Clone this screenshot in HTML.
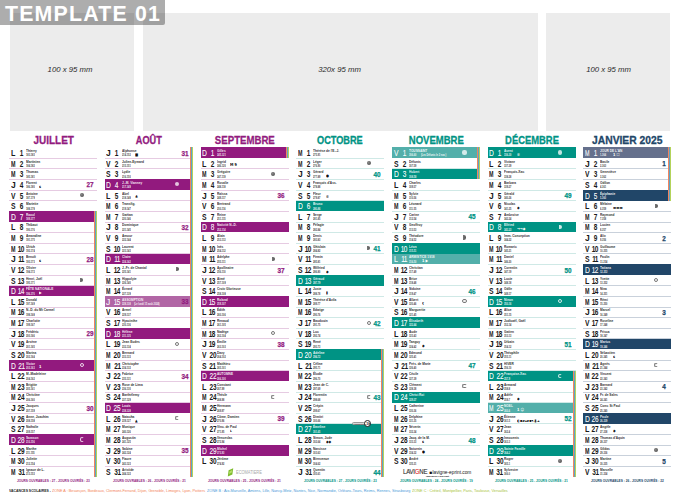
<!DOCTYPE html>
<html lang="fr"><head><meta charset="utf-8"><title>Template 01</title>
<style>
*{box-sizing:border-box;margin:0;padding:0}
html,body{width:680px;height:501px;overflow:hidden;background:#fff}
body{position:relative;font-family:"Liberation Sans",Arial,sans-serif;color:#222}
.ph{position:absolute;top:13px;height:117.5px;background:#ececec}
.phl{position:absolute;top:64.5px;font:italic 7.75px/9px "Liberation Sans",sans-serif;color:#2a2a2a;white-space:nowrap}
.tag{position:absolute;left:0;top:0;width:165px;height:25px;background:rgba(0,0,0,.32);border-radius:0 0 2px 0}
.tagt{position:absolute;left:5px;top:2.8px;font:bold 21.3px/22px "Liberation Sans",sans-serif;color:#fff;letter-spacing:1.2px;white-space:nowrap}
.mt{position:absolute;top:134.1px;width:88px;text-align:center;font:bold 11.2px/13px "Liberation Sans",sans-serif;white-space:nowrap;-webkit-text-stroke:.3px currentColor}
.mt span{display:inline-block;transform:scaleX(.86);transform-origin:50% 50%}
.col{position:absolute;top:0;width:88px;height:501px}
.r{position:absolute;left:0;width:88px;height:10.63px}
.sep{position:absolute;left:0;width:88px;height:1px}
.bar{position:absolute;left:0;width:88px}
.st{position:absolute;width:1px}
.dl{position:absolute;left:1.6px;font:bold 9px/10px "Liberation Sans",sans-serif;color:#1a1a1a;transform-origin:0 0}
.dn{position:absolute;left:7.1px;width:10px;text-align:center;font:bold 9px/10px "Liberation Sans",sans-serif;color:#1a1a1a}
.dn>span{display:inline-block;transform:scaleX(.72)}
.dn i{font-style:normal;margin:0 -1.1px 0 -.9px}
.dn i:last-child{margin:0 -.9px 0 -.5px}
.nm{position:absolute;left:16.8px;font:bold 4.3px/5px "Liberation Sans",sans-serif;color:#333;white-space:nowrap;transform:scaleX(.74);transform-origin:0 0}
.nb{position:absolute;left:16.8px;font:bold 3.5px/4px "Liberation Sans",sans-serif;color:#444;white-space:nowrap;transform:scaleX(.68);transform-origin:0 0}
.wk{position:absolute;left:74.4px;width:12px;text-align:center;font:bold 7.6px/9px "Liberation Sans",sans-serif;-webkit-text-stroke:.25px currentColor;transform:scaleX(.84);transform-origin:50% 0}
.inv .dl,.inv .dn,.inv .nm,.inv .nb{color:#fff}
.inv .dl,.inv .dn{font-weight:normal;color:rgba(255,255,255,.95);-webkit-text-stroke:.15px currentColor}
.inv .nm,.inv .nb{color:rgba(255,255,255,.92)}
.mn{position:absolute;left:70.45px;width:4.1px;height:4.1px;border-radius:50%}
.mnew{background:radial-gradient(circle at 40% 40%,#888 0,#5e5e5e 60%,#555 100%)}
.mfull{border:.7px solid #777;background:radial-gradient(circle,#aaa 0,#aaa 18%,#fff 30%)}
.mfq{border-radius:0 2.2px 2.2px 0;left:71.2px;width:3px;background:linear-gradient(90deg,#777 0,#555 100%)}
.mlq{border:.9px solid #777;border-right-color:transparent;background:transparent}
.inv .mnew{background:rgba(255,255,255,.75)}
.inv .mfull{border-color:rgba(255,255,255,.8);background:transparent}
.inv .mfq{background:rgba(255,255,255,.8)}
.inv .mlq{border-color:rgba(255,255,255,.8);border-right-color:transparent}
.ic{position:absolute;top:5.4px;font:bold 4px/4px "DejaVu Sans",sans-serif;color:#111;white-space:nowrap;transform:scaleX(.85);transform-origin:0 0}
.inv .ic{color:#fff}
.dst{position:absolute;left:55.6px;top:-3.4px;width:19px;height:7px}
.dst .pill{position:absolute;left:0;top:1.7px;width:13.5px;height:3.2px;border-radius:1.6px;background:#d9d9d9;border:.4px solid #9a9a9a}
.dst .pill b{position:absolute;left:1.5px;top:.2px;font:bold 1.8px/2px "Liberation Sans",sans-serif;color:#555;white-space:nowrap}
.dst .clk{position:absolute;left:12.3px;top:0;width:7px;height:7px;border-radius:50%;background:#fff;border:.7px solid #222;display:flex;align-items:center;justify-content:center;font:bold 3.6px/4px "Liberation Sans",sans-serif;color:#111;white-space:nowrap}
.jo{position:absolute;top:479.3px;width:88px;text-align:center;font:bold 3.8px/4px "Liberation Sans",sans-serif;white-space:nowrap}
.jo span{display:inline-block;transform:scaleX(.84)}
.vs{position:absolute;top:487.9px;font:4.4px/5px "Liberation Sans",sans-serif;white-space:nowrap;transform-origin:0 0}
.vb{font-weight:bold;color:#1a1a1a}
.za{color:#f3845a}
.zb{color:#4a9ad8}
.zc{color:#a6c337}
.eco{position:absolute;left:227.2px;top:467.5px;width:40px;height:9px}
.eco span{position:absolute;left:8.4px;top:2.4px;font:4.6px/5px "Liberation Sans",sans-serif;color:#a9a9a9;transform:scaleX(.86);transform-origin:0 0;white-space:nowrap}
.lav{position:absolute;left:403px;top:467px;width:70px;height:12px}
.lav span{position:absolute;white-space:nowrap;font-family:"Liberation Sans",sans-serif;transform-origin:0 0}
.lv1{left:0;top:1.2px;font-size:7.2px;line-height:8px;color:#333;transform:scaleX(.83);letter-spacing:-.2px;-webkit-text-stroke:.15px currentColor}
.lv1 i{font-style:normal;color:#e2332f}
.lv2{left:26.6px;top:3.4px;font-size:4.75px;line-height:6px;color:#111}
.lv3{left:23px;top:8.2px;font-size:2.4px;line-height:3px;color:#222;font-weight:bold}
</style></head><body>

<div class="ph" style="left:10px;width:124px"></div>
<div class="ph" style="left:142.5px;width:395.5px"></div>
<div class="ph" style="left:546.3px;width:123.7px"></div>
<div class="phl" style="left:47.6px">100 x 95 mm</div>
<div class="phl" style="left:318.2px">320x 95 mm</div>
<div class="phl" style="left:586.2px">100 x 95 mm</div>
<div class="mt" style="left:9.2px;color:#921a7e"><span style="transform:scaleX(0.89)">JUILLET</span></div>
<div class="col" style="left:9.2px">
<div class="r" style="top:147.4px"><div class="sep" style="top:10.33px;background:#e6cbe2"></div><div class="dl" style="top:0.6px;transform:scaleX(0.8)">L</div><div class="dn" style="top:0.6px"><span>1</span></div><div class="nm" style="top:0.6px">Thierry</div><div class="nb" style="top:5.6px">183-183</div></div>
<div class="r" style="top:158.03px"><div class="sep" style="top:10.33px;background:#e6cbe2"></div><div class="dl" style="top:0.97px;transform:scaleX(0.6)">M</div><div class="dn" style="top:0.97px"><span>2</span></div><div class="nm" style="top:0.97px">Martinien</div><div class="nb" style="top:5.97px">184-182</div></div>
<div class="r" style="top:168.66px"><div class="sep" style="top:10.33px;background:#e6cbe2"></div><div class="dl" style="top:0.34px;transform:scaleX(0.6)">M</div><div class="dn" style="top:0.34px"><span>3</span></div><div class="nm" style="top:0.34px">Thomas</div><div class="nb" style="top:6.34px">185-181</div></div>
<div class="r" style="top:179.29px"><div class="sep" style="top:10.33px;background:#e6cbe2"></div><div class="dl" style="top:0.71px;transform:scaleX(0.95)">J</div><div class="dn" style="top:0.71px"><span>4</span></div><div class="nm" style="top:0.71px">Florent</div><div class="nb" style="top:5.71px">186-180</div><div class="ic" style="left:29.8px">s</div><div class="wk" style="top:0.71px;color:#921a7e">27</div></div>
<div class="r" style="top:189.92px"><div class="sep" style="top:10.33px;background:#e6cbe2"></div><div class="dl" style="top:1.08px;transform:scaleX(0.75)">V</div><div class="dn" style="top:1.08px"><span>5</span></div><div class="nm" style="top:1.08px">Antoine</div><div class="nb" style="top:6.08px">187-179</div><span style="top:3.05px" class="mn mnew"></span></div>
<div class="r" style="top:200.55px"><div class="sep" style="top:10.33px;background:#e6cbe2"></div><div class="dl" style="top:0.45px;transform:scaleX(0.76)">S</div><div class="dn" style="top:0.45px"><span>6</span></div><div class="nm" style="top:0.45px">Mariette</div><div class="nb" style="top:6.45px">188-178</div></div>
<div class="r inv" style="top:211.18px"><div class="bar" style="top:0;height:10.68px;background:#921a7e"></div><div class="dl" style="top:0.82px;transform:scaleX(0.75)">D</div><div class="dn" style="top:0.82px"><span>7</span></div><div class="nm" style="top:0.82px">Raoul</div><div class="nb" style="top:5.82px">189-177</div><div class="st" style="left:85px;top:0;height:10.68px;background:#f2845f"></div><div class="st" style="left:86px;top:0;height:10.68px;background:#5ea3c6"></div><div class="st" style="left:87px;top:0;height:10.68px;background:#b3d35a"></div></div>
<div class="r" style="top:221.81px"><div class="sep" style="top:10.33px;background:#e6cbe2"></div><div class="dl" style="top:0.19px;transform:scaleX(0.8)">L</div><div class="dn" style="top:0.19px"><span>8</span></div><div class="nm" style="top:0.19px">Thibaut</div><div class="nb" style="top:6.19px">190-176</div><div class="st" style="left:85px;top:0;height:10.68px;background:#f2845f"></div><div class="st" style="left:86px;top:0;height:10.68px;background:#5ea3c6"></div><div class="st" style="left:87px;top:0;height:10.68px;background:#b3d35a"></div></div>
<div class="r" style="top:232.44px"><div class="sep" style="top:10.33px;background:#e6cbe2"></div><div class="dl" style="top:0.56px;transform:scaleX(0.6)">M</div><div class="dn" style="top:0.56px"><span>9</span></div><div class="nm" style="top:0.56px">Amandine</div><div class="nb" style="top:5.56px">191-175</div><div class="st" style="left:85px;top:0;height:10.68px;background:#f2845f"></div><div class="st" style="left:86px;top:0;height:10.68px;background:#5ea3c6"></div><div class="st" style="left:87px;top:0;height:10.68px;background:#b3d35a"></div></div>
<div class="r" style="top:243.07px"><div class="sep" style="top:10.33px;background:#e6cbe2"></div><div class="dl" style="top:0.93px;transform:scaleX(0.6)">M</div><div class="dn" style="top:0.93px"><span><i>1</i>0</span></div><div class="nm" style="top:0.93px">Ulrich</div><div class="nb" style="top:5.93px">192-174</div><div class="st" style="left:85px;top:0;height:10.68px;background:#f2845f"></div><div class="st" style="left:86px;top:0;height:10.68px;background:#5ea3c6"></div><div class="st" style="left:87px;top:0;height:10.68px;background:#b3d35a"></div></div>
<div class="r" style="top:253.7px"><div class="sep" style="top:10.33px;background:#e6cbe2"></div><div class="dl" style="top:0.3px;transform:scaleX(0.95)">J</div><div class="dn" style="top:0.3px"><span><i>1</i><i>1</i></span></div><div class="nm" style="top:0.3px">Benoît</div><div class="nb" style="top:6.3px">193-173</div><div class="ic" style="left:29.8px">s</div><div class="wk" style="top:1.3px;color:#921a7e">28</div><div class="st" style="left:85px;top:0;height:10.68px;background:#f2845f"></div><div class="st" style="left:86px;top:0;height:10.68px;background:#5ea3c6"></div><div class="st" style="left:87px;top:0;height:10.68px;background:#b3d35a"></div></div>
<div class="r" style="top:264.33px"><div class="sep" style="top:10.33px;background:#e6cbe2"></div><div class="dl" style="top:0.67px;transform:scaleX(0.75)">V</div><div class="dn" style="top:0.67px"><span><i>1</i>2</span></div><div class="nm" style="top:0.67px">Olivier</div><div class="nb" style="top:5.67px">194-172</div><div class="st" style="left:85px;top:0;height:10.68px;background:#f2845f"></div><div class="st" style="left:86px;top:0;height:10.68px;background:#5ea3c6"></div><div class="st" style="left:87px;top:0;height:10.68px;background:#b3d35a"></div></div>
<div class="r" style="top:274.96px"><div class="sep" style="top:10.33px;background:#e6cbe2"></div><div class="dl" style="top:1.04px;transform:scaleX(0.76)">S</div><div class="dn" style="top:1.04px"><span><i>1</i>3</span></div><div class="nm" style="top:1.04px">Henri, Joël</div><div class="nb" style="top:6.04px">195-171</div><span style="top:3.05px" class="mn mfq"></span><div class="st" style="left:85px;top:0;height:10.68px;background:#f2845f"></div><div class="st" style="left:86px;top:0;height:10.68px;background:#5ea3c6"></div><div class="st" style="left:87px;top:0;height:10.68px;background:#b3d35a"></div></div>
<div class="r inv" style="top:285.59px"><div class="bar" style="top:0;height:10.68px;background:#921a7e"></div><div class="dl" style="top:0.41px;transform:scaleX(0.75)">D</div><div class="dn" style="top:0.41px"><span><i>1</i>4</span></div><div class="nm" style="top:0.41px">FÊTE NATIONALE</div><div class="nb" style="top:6.41px">196-170</div><div class="ic" style="left:29.8px">▶</div><div class="st" style="left:85px;top:0;height:10.68px;background:#f2845f"></div><div class="st" style="left:86px;top:0;height:10.68px;background:#5ea3c6"></div><div class="st" style="left:87px;top:0;height:10.68px;background:#b3d35a"></div></div>
<div class="r" style="top:296.22px"><div class="sep" style="top:10.33px;background:#e6cbe2"></div><div class="dl" style="top:0.78px;transform:scaleX(0.8)">L</div><div class="dn" style="top:0.78px"><span><i>1</i>5</span></div><div class="nm" style="top:0.78px">Donald</div><div class="nb" style="top:5.78px">197-169</div><div class="st" style="left:85px;top:0;height:10.68px;background:#f2845f"></div><div class="st" style="left:86px;top:0;height:10.68px;background:#5ea3c6"></div><div class="st" style="left:87px;top:0;height:10.68px;background:#b3d35a"></div></div>
<div class="r" style="top:306.85px"><div class="sep" style="top:10.33px;background:#e6cbe2"></div><div class="dl" style="top:0.15px;transform:scaleX(0.6)">M</div><div class="dn" style="top:0.15px"><span><i>1</i>6</span></div><div class="nm" style="top:0.15px">N.-D. du Mt Carmel</div><div class="nb" style="top:6.15px">198-168</div><div class="st" style="left:85px;top:0;height:10.68px;background:#f2845f"></div><div class="st" style="left:86px;top:0;height:10.68px;background:#5ea3c6"></div><div class="st" style="left:87px;top:0;height:10.68px;background:#b3d35a"></div></div>
<div class="r" style="top:317.48px"><div class="sep" style="top:10.33px;background:#e6cbe2"></div><div class="dl" style="top:0.52px;transform:scaleX(0.6)">M</div><div class="dn" style="top:0.52px"><span><i>1</i>7</span></div><div class="nm" style="top:0.52px">Charlotte</div><div class="nb" style="top:5.52px">199-167</div><div class="st" style="left:85px;top:0;height:10.68px;background:#f2845f"></div><div class="st" style="left:86px;top:0;height:10.68px;background:#5ea3c6"></div><div class="st" style="left:87px;top:0;height:10.68px;background:#b3d35a"></div></div>
<div class="r" style="top:328.11px"><div class="sep" style="top:10.33px;background:#e6cbe2"></div><div class="dl" style="top:0.89px;transform:scaleX(0.95)">J</div><div class="dn" style="top:0.89px"><span><i>1</i>8</span></div><div class="nm" style="top:0.89px">Frédéric</div><div class="nb" style="top:5.89px">200-166</div><div class="wk" style="top:0.89px;color:#921a7e">29</div><div class="st" style="left:85px;top:0;height:10.68px;background:#f2845f"></div><div class="st" style="left:86px;top:0;height:10.68px;background:#5ea3c6"></div><div class="st" style="left:87px;top:0;height:10.68px;background:#b3d35a"></div></div>
<div class="r" style="top:338.74px"><div class="sep" style="top:10.33px;background:#e6cbe2"></div><div class="dl" style="top:0.26px;transform:scaleX(0.75)">V</div><div class="dn" style="top:0.26px"><span><i>1</i>9</span></div><div class="nm" style="top:0.26px">Arsène</div><div class="nb" style="top:6.26px">201-165</div><div class="st" style="left:85px;top:0;height:10.68px;background:#f2845f"></div><div class="st" style="left:86px;top:0;height:10.68px;background:#5ea3c6"></div><div class="st" style="left:87px;top:0;height:10.68px;background:#b3d35a"></div></div>
<div class="r" style="top:349.37px"><div class="sep" style="top:10.33px;background:#e6cbe2"></div><div class="dl" style="top:0.63px;transform:scaleX(0.76)">S</div><div class="dn" style="top:0.63px"><span>20</span></div><div class="nm" style="top:0.63px">Marina</div><div class="nb" style="top:5.63px">202-164</div><div class="st" style="left:85px;top:0;height:10.68px;background:#f2845f"></div><div class="st" style="left:86px;top:0;height:10.68px;background:#5ea3c6"></div><div class="st" style="left:87px;top:0;height:10.68px;background:#b3d35a"></div></div>
<div class="r inv" style="top:360px"><div class="bar" style="top:0;height:10.68px;background:#921a7e"></div><div class="dl" style="top:1px;transform:scaleX(0.75)">D</div><div class="dn" style="top:1px"><span>2<i>1</i></span></div><div class="nm" style="top:1px">Victor</div><div class="nb" style="top:6px">203-163</div><div class="ic" style="left:29.8px">1</div><span style="top:3.05px" class="mn mfull"></span><div class="st" style="left:85px;top:0;height:10.68px;background:#f2845f"></div><div class="st" style="left:86px;top:0;height:10.68px;background:#5ea3c6"></div><div class="st" style="left:87px;top:0;height:10.68px;background:#b3d35a"></div></div>
<div class="r" style="top:370.63px"><div class="sep" style="top:10.33px;background:#e6cbe2"></div><div class="dl" style="top:0.37px;transform:scaleX(0.8)">L</div><div class="dn" style="top:0.37px"><span>22</span></div><div class="nm" style="top:0.37px">M.-Madeleine</div><div class="nb" style="top:6.37px">204-162</div><div class="st" style="left:85px;top:0;height:10.68px;background:#f2845f"></div><div class="st" style="left:86px;top:0;height:10.68px;background:#5ea3c6"></div><div class="st" style="left:87px;top:0;height:10.68px;background:#b3d35a"></div></div>
<div class="r" style="top:381.26px"><div class="sep" style="top:10.33px;background:#e6cbe2"></div><div class="dl" style="top:0.74px;transform:scaleX(0.6)">M</div><div class="dn" style="top:0.74px"><span>23</span></div><div class="nm" style="top:0.74px">Brigitte</div><div class="nb" style="top:5.74px">205-161</div><div class="st" style="left:85px;top:0;height:10.68px;background:#f2845f"></div><div class="st" style="left:86px;top:0;height:10.68px;background:#5ea3c6"></div><div class="st" style="left:87px;top:0;height:10.68px;background:#b3d35a"></div></div>
<div class="r" style="top:391.89px"><div class="sep" style="top:10.33px;background:#e6cbe2"></div><div class="dl" style="top:0.11px;transform:scaleX(0.6)">M</div><div class="dn" style="top:0.11px"><span>24</span></div><div class="nm" style="top:0.11px">Christine</div><div class="nb" style="top:6.11px">206-160</div><div class="st" style="left:85px;top:0;height:10.68px;background:#f2845f"></div><div class="st" style="left:86px;top:0;height:10.68px;background:#5ea3c6"></div><div class="st" style="left:87px;top:0;height:10.68px;background:#b3d35a"></div></div>
<div class="r" style="top:402.52px"><div class="sep" style="top:10.33px;background:#e6cbe2"></div><div class="dl" style="top:0.48px;transform:scaleX(0.95)">J</div><div class="dn" style="top:0.48px"><span>25</span></div><div class="nm" style="top:0.48px">Jacques</div><div class="nb" style="top:6.48px">207-159</div><div class="wk" style="top:1.48px;color:#921a7e">30</div><div class="st" style="left:85px;top:0;height:10.68px;background:#f2845f"></div><div class="st" style="left:86px;top:0;height:10.68px;background:#5ea3c6"></div><div class="st" style="left:87px;top:0;height:10.68px;background:#b3d35a"></div></div>
<div class="r" style="top:413.15px"><div class="sep" style="top:10.33px;background:#e6cbe2"></div><div class="dl" style="top:0.85px;transform:scaleX(0.75)">V</div><div class="dn" style="top:0.85px"><span>26</span></div><div class="nm" style="top:0.85px">Anne, Joachim</div><div class="nb" style="top:5.85px">208-158</div><div class="st" style="left:85px;top:0;height:10.68px;background:#f2845f"></div><div class="st" style="left:86px;top:0;height:10.68px;background:#5ea3c6"></div><div class="st" style="left:87px;top:0;height:10.68px;background:#b3d35a"></div></div>
<div class="r" style="top:423.78px"><div class="sep" style="top:10.33px;background:#e6cbe2"></div><div class="dl" style="top:0.22px;transform:scaleX(0.76)">S</div><div class="dn" style="top:0.22px"><span>27</span></div><div class="nm" style="top:0.22px">Nathalie</div><div class="nb" style="top:6.22px">209-157</div><div class="st" style="left:85px;top:0;height:10.68px;background:#f2845f"></div><div class="st" style="left:86px;top:0;height:10.68px;background:#5ea3c6"></div><div class="st" style="left:87px;top:0;height:10.68px;background:#b3d35a"></div></div>
<div class="r inv" style="top:434.41px"><div class="bar" style="top:0;height:10.68px;background:#921a7e"></div><div class="dl" style="top:0.59px;transform:scaleX(0.75)">D</div><div class="dn" style="top:0.59px"><span>28</span></div><div class="nm" style="top:0.59px">Samson</div><div class="nb" style="top:5.59px">210-156</div><span style="top:3.05px" class="mn mlq"></span><div class="st" style="left:85px;top:0;height:10.68px;background:#f2845f"></div><div class="st" style="left:86px;top:0;height:10.68px;background:#5ea3c6"></div><div class="st" style="left:87px;top:0;height:10.68px;background:#b3d35a"></div></div>
<div class="r" style="top:445.04px"><div class="sep" style="top:10.33px;background:#e6cbe2"></div><div class="dl" style="top:0.96px;transform:scaleX(0.8)">L</div><div class="dn" style="top:0.96px"><span>29</span></div><div class="nm" style="top:0.96px">Marthe</div><div class="nb" style="top:5.96px">211-155</div><div class="st" style="left:85px;top:0;height:10.68px;background:#f2845f"></div><div class="st" style="left:86px;top:0;height:10.68px;background:#5ea3c6"></div><div class="st" style="left:87px;top:0;height:10.68px;background:#b3d35a"></div></div>
<div class="r" style="top:455.67px"><div class="sep" style="top:10.33px;background:#e6cbe2"></div><div class="dl" style="top:0.33px;transform:scaleX(0.6)">M</div><div class="dn" style="top:0.33px"><span>30</span></div><div class="nm" style="top:0.33px">Juliette</div><div class="nb" style="top:6.33px">212-154</div><div class="st" style="left:85px;top:0;height:10.68px;background:#f2845f"></div><div class="st" style="left:86px;top:0;height:10.68px;background:#5ea3c6"></div><div class="st" style="left:87px;top:0;height:10.68px;background:#b3d35a"></div></div>
<div class="r" style="top:466.3px"><div class="dl" style="top:0.7px;transform:scaleX(0.6)">M</div><div class="dn" style="top:0.7px"><span>3<i>1</i></span></div><div class="nm" style="top:0.7px">Ignace de L.</div><div class="nb" style="top:5.7px">213-153</div><div class="st" style="left:85px;top:0;height:10.68px;background:#f2845f"></div><div class="st" style="left:86px;top:0;height:10.68px;background:#5ea3c6"></div><div class="st" style="left:87px;top:0;height:10.68px;background:#b3d35a"></div></div>
</div>
<div class="jo" style="left:9.2px;color:#921a7e"><span>JOURS OUVRABLES : 27 - JOURS OUVRÉS : 23</span></div>
<div class="mt" style="left:104.9px;color:#921a7e"><span style="transform:scaleX(0.82)">AOÛT</span></div>
<div class="col" style="left:104.9px">
<div class="r" style="top:147.4px"><div class="sep" style="top:10.33px;background:#e6cbe2"></div><div class="dl" style="top:0.6px;transform:scaleX(0.95)">J</div><div class="dn" style="top:0.6px"><span>1</span></div><div class="nm" style="top:0.6px">Alphonse</div><div class="nb" style="top:5.6px">214-152</div><div class="ic" style="left:29.8px">■</div><div class="wk" style="top:1.6px;color:#921a7e">31</div><div class="st" style="left:85px;top:0;height:10.68px;background:#f2845f"></div><div class="st" style="left:86px;top:0;height:10.68px;background:#5ea3c6"></div><div class="st" style="left:87px;top:0;height:10.68px;background:#b3d35a"></div></div>
<div class="r" style="top:158.03px"><div class="sep" style="top:10.33px;background:#e6cbe2"></div><div class="dl" style="top:0.97px;transform:scaleX(0.75)">V</div><div class="dn" style="top:0.97px"><span>2</span></div><div class="nm" style="top:0.97px">Julien-Eymard</div><div class="nb" style="top:5.97px">215-151</div><div class="st" style="left:85px;top:0;height:10.68px;background:#f2845f"></div><div class="st" style="left:86px;top:0;height:10.68px;background:#5ea3c6"></div><div class="st" style="left:87px;top:0;height:10.68px;background:#b3d35a"></div></div>
<div class="r" style="top:168.66px"><div class="sep" style="top:10.33px;background:#e6cbe2"></div><div class="dl" style="top:0.34px;transform:scaleX(0.76)">S</div><div class="dn" style="top:0.34px"><span>3</span></div><div class="nm" style="top:0.34px">Lydie</div><div class="nb" style="top:6.34px">216-150</div><div class="st" style="left:85px;top:0;height:10.68px;background:#f2845f"></div><div class="st" style="left:86px;top:0;height:10.68px;background:#5ea3c6"></div><div class="st" style="left:87px;top:0;height:10.68px;background:#b3d35a"></div></div>
<div class="r inv" style="top:179.29px"><div class="bar" style="top:0;height:10.68px;background:#921a7e"></div><div class="dl" style="top:0.71px;transform:scaleX(0.75)">D</div><div class="dn" style="top:0.71px"><span>4</span></div><div class="nm" style="top:0.71px">J.-M. Vianney</div><div class="nb" style="top:5.71px">217-149</div><span style="top:3.05px" class="mn mnew"></span><div class="st" style="left:85px;top:0;height:10.68px;background:#f2845f"></div><div class="st" style="left:86px;top:0;height:10.68px;background:#5ea3c6"></div><div class="st" style="left:87px;top:0;height:10.68px;background:#b3d35a"></div></div>
<div class="r" style="top:189.92px"><div class="sep" style="top:10.33px;background:#e6cbe2"></div><div class="dl" style="top:1.08px;transform:scaleX(0.8)">L</div><div class="dn" style="top:1.08px"><span>5</span></div><div class="nm" style="top:1.08px">Abel</div><div class="nb" style="top:6.08px">218-148</div><div class="ic" style="left:29.8px">♣</div><div class="st" style="left:85px;top:0;height:10.68px;background:#f2845f"></div><div class="st" style="left:86px;top:0;height:10.68px;background:#5ea3c6"></div><div class="st" style="left:87px;top:0;height:10.68px;background:#b3d35a"></div></div>
<div class="r" style="top:200.55px"><div class="sep" style="top:10.33px;background:#e6cbe2"></div><div class="dl" style="top:0.45px;transform:scaleX(0.6)">M</div><div class="dn" style="top:0.45px"><span>6</span></div><div class="nm" style="top:0.45px">Transfig.</div><div class="nb" style="top:6.45px">219-147</div><div class="st" style="left:85px;top:0;height:10.68px;background:#f2845f"></div><div class="st" style="left:86px;top:0;height:10.68px;background:#5ea3c6"></div><div class="st" style="left:87px;top:0;height:10.68px;background:#b3d35a"></div></div>
<div class="r" style="top:211.18px"><div class="sep" style="top:10.33px;background:#e6cbe2"></div><div class="dl" style="top:0.82px;transform:scaleX(0.6)">M</div><div class="dn" style="top:0.82px"><span>7</span></div><div class="nm" style="top:0.82px">Gaétan</div><div class="nb" style="top:5.82px">220-146</div><div class="st" style="left:85px;top:0;height:10.68px;background:#f2845f"></div><div class="st" style="left:86px;top:0;height:10.68px;background:#5ea3c6"></div><div class="st" style="left:87px;top:0;height:10.68px;background:#b3d35a"></div></div>
<div class="r" style="top:221.81px"><div class="sep" style="top:10.33px;background:#e6cbe2"></div><div class="dl" style="top:0.19px;transform:scaleX(0.95)">J</div><div class="dn" style="top:0.19px"><span>8</span></div><div class="nm" style="top:0.19px">Dominique</div><div class="nb" style="top:6.19px">221-145</div><div class="wk" style="top:1.19px;color:#921a7e">32</div><div class="st" style="left:85px;top:0;height:10.68px;background:#f2845f"></div><div class="st" style="left:86px;top:0;height:10.68px;background:#5ea3c6"></div><div class="st" style="left:87px;top:0;height:10.68px;background:#b3d35a"></div></div>
<div class="r" style="top:232.44px"><div class="sep" style="top:10.33px;background:#e6cbe2"></div><div class="dl" style="top:0.56px;transform:scaleX(0.75)">V</div><div class="dn" style="top:0.56px"><span>9</span></div><div class="nm" style="top:0.56px">Amour</div><div class="nb" style="top:5.56px">222-144</div><div class="st" style="left:85px;top:0;height:10.68px;background:#f2845f"></div><div class="st" style="left:86px;top:0;height:10.68px;background:#5ea3c6"></div><div class="st" style="left:87px;top:0;height:10.68px;background:#b3d35a"></div></div>
<div class="r" style="top:243.07px"><div class="sep" style="top:10.33px;background:#e6cbe2"></div><div class="dl" style="top:0.93px;transform:scaleX(0.76)">S</div><div class="dn" style="top:0.93px"><span><i>1</i>0</span></div><div class="nm" style="top:0.93px">Laurent</div><div class="nb" style="top:5.93px">223-143</div><div class="st" style="left:85px;top:0;height:10.68px;background:#f2845f"></div><div class="st" style="left:86px;top:0;height:10.68px;background:#5ea3c6"></div><div class="st" style="left:87px;top:0;height:10.68px;background:#b3d35a"></div></div>
<div class="r inv" style="top:253.7px"><div class="bar" style="top:0;height:10.68px;background:#921a7e"></div><div class="dl" style="top:0.3px;transform:scaleX(0.75)">D</div><div class="dn" style="top:0.3px"><span><i>1</i><i>1</i></span></div><div class="nm" style="top:0.3px">Claire</div><div class="nb" style="top:6.3px">224-142</div><div class="st" style="left:85px;top:0;height:10.68px;background:#f2845f"></div><div class="st" style="left:86px;top:0;height:10.68px;background:#5ea3c6"></div><div class="st" style="left:87px;top:0;height:10.68px;background:#b3d35a"></div></div>
<div class="r" style="top:264.33px"><div class="sep" style="top:10.33px;background:#e6cbe2"></div><div class="dl" style="top:0.67px;transform:scaleX(0.8)">L</div><div class="dn" style="top:0.67px"><span><i>1</i>2</span></div><div class="nm" style="top:0.67px">J.-Fr. de Chantal</div><div class="nb" style="top:5.67px">225-141</div><span style="top:3.05px" class="mn mfq"></span><div class="st" style="left:85px;top:0;height:10.68px;background:#f2845f"></div><div class="st" style="left:86px;top:0;height:10.68px;background:#5ea3c6"></div><div class="st" style="left:87px;top:0;height:10.68px;background:#b3d35a"></div></div>
<div class="r" style="top:274.96px"><div class="sep" style="top:10.33px;background:#e6cbe2"></div><div class="dl" style="top:1.04px;transform:scaleX(0.6)">M</div><div class="dn" style="top:1.04px"><span><i>1</i>3</span></div><div class="nm" style="top:1.04px">Hippolyte</div><div class="nb" style="top:6.04px">226-140</div><div class="st" style="left:85px;top:0;height:10.68px;background:#f2845f"></div><div class="st" style="left:86px;top:0;height:10.68px;background:#5ea3c6"></div><div class="st" style="left:87px;top:0;height:10.68px;background:#b3d35a"></div></div>
<div class="r" style="top:285.59px"><div class="sep" style="top:10.33px;background:#e6cbe2"></div><div class="dl" style="top:0.41px;transform:scaleX(0.6)">M</div><div class="dn" style="top:0.41px"><span><i>1</i>4</span></div><div class="nm" style="top:0.41px">Évrard</div><div class="nb" style="top:6.41px">227-139</div><div class="st" style="left:85px;top:0;height:10.68px;background:#f2845f"></div><div class="st" style="left:86px;top:0;height:10.68px;background:#5ea3c6"></div><div class="st" style="left:87px;top:0;height:10.68px;background:#b3d35a"></div></div>
<div class="r inv" style="top:296.22px"><div class="bar" style="top:0;height:10.68px;background:#b166a5"></div><div class="dl" style="top:0.78px;transform:scaleX(0.95)">J</div><div class="dn" style="top:0.78px"><span><i>1</i>5</span></div><div class="nm" style="top:0.78px">ASSOMPTION</div><div class="nb" style="top:5.78px">228-138</div><div class="nb" style="top:5.78px;left:29px;font-weight:bold">(Le lundi 15 août 2024)</div><div class="wk" style="top:0.78px;color:#921a7e">33</div><div class="st" style="left:85px;top:0;height:10.68px;background:#f2845f"></div><div class="st" style="left:86px;top:0;height:10.68px;background:#5ea3c6"></div><div class="st" style="left:87px;top:0;height:10.68px;background:#b3d35a"></div></div>
<div class="r" style="top:306.85px"><div class="sep" style="top:10.33px;background:#e6cbe2"></div><div class="dl" style="top:0.15px;transform:scaleX(0.75)">V</div><div class="dn" style="top:0.15px"><span><i>1</i>6</span></div><div class="nm" style="top:0.15px">Armel</div><div class="nb" style="top:6.15px">229-137</div><div class="st" style="left:85px;top:0;height:10.68px;background:#f2845f"></div><div class="st" style="left:86px;top:0;height:10.68px;background:#5ea3c6"></div><div class="st" style="left:87px;top:0;height:10.68px;background:#b3d35a"></div></div>
<div class="r" style="top:317.48px"><div class="sep" style="top:10.33px;background:#e6cbe2"></div><div class="dl" style="top:0.52px;transform:scaleX(0.76)">S</div><div class="dn" style="top:0.52px"><span><i>1</i>7</span></div><div class="nm" style="top:0.52px">Hyacinthe</div><div class="nb" style="top:5.52px">230-136</div><div class="st" style="left:85px;top:0;height:10.68px;background:#f2845f"></div><div class="st" style="left:86px;top:0;height:10.68px;background:#5ea3c6"></div><div class="st" style="left:87px;top:0;height:10.68px;background:#b3d35a"></div></div>
<div class="r inv" style="top:328.11px"><div class="bar" style="top:0;height:10.68px;background:#921a7e"></div><div class="dl" style="top:0.89px;transform:scaleX(0.75)">D</div><div class="dn" style="top:0.89px"><span><i>1</i>8</span></div><div class="nm" style="top:0.89px">Hélène</div><div class="nb" style="top:5.89px">231-135</div><div class="st" style="left:85px;top:0;height:10.68px;background:#f2845f"></div><div class="st" style="left:86px;top:0;height:10.68px;background:#5ea3c6"></div><div class="st" style="left:87px;top:0;height:10.68px;background:#b3d35a"></div></div>
<div class="r" style="top:338.74px"><div class="sep" style="top:10.33px;background:#e6cbe2"></div><div class="dl" style="top:0.26px;transform:scaleX(0.8)">L</div><div class="dn" style="top:0.26px"><span><i>1</i>9</span></div><div class="nm" style="top:0.26px">Jean Eudes</div><div class="nb" style="top:6.26px">232-134</div><span style="top:3.05px" class="mn mfull"></span><div class="st" style="left:85px;top:0;height:10.68px;background:#f2845f"></div><div class="st" style="left:86px;top:0;height:10.68px;background:#5ea3c6"></div><div class="st" style="left:87px;top:0;height:10.68px;background:#b3d35a"></div></div>
<div class="r" style="top:349.37px"><div class="sep" style="top:10.33px;background:#e6cbe2"></div><div class="dl" style="top:0.63px;transform:scaleX(0.6)">M</div><div class="dn" style="top:0.63px"><span>20</span></div><div class="nm" style="top:0.63px">Bernard</div><div class="nb" style="top:5.63px">233-133</div><div class="st" style="left:85px;top:0;height:10.68px;background:#f2845f"></div><div class="st" style="left:86px;top:0;height:10.68px;background:#5ea3c6"></div><div class="st" style="left:87px;top:0;height:10.68px;background:#b3d35a"></div></div>
<div class="r" style="top:360px"><div class="sep" style="top:10.33px;background:#e6cbe2"></div><div class="dl" style="top:1px;transform:scaleX(0.6)">M</div><div class="dn" style="top:1px"><span>2<i>1</i></span></div><div class="nm" style="top:1px">Christophe</div><div class="nb" style="top:6px">234-132</div><div class="st" style="left:85px;top:0;height:10.68px;background:#f2845f"></div><div class="st" style="left:86px;top:0;height:10.68px;background:#5ea3c6"></div><div class="st" style="left:87px;top:0;height:10.68px;background:#b3d35a"></div></div>
<div class="r" style="top:370.63px"><div class="sep" style="top:10.33px;background:#e6cbe2"></div><div class="dl" style="top:0.37px;transform:scaleX(0.95)">J</div><div class="dn" style="top:0.37px"><span>22</span></div><div class="nm" style="top:0.37px">Fabrice</div><div class="nb" style="top:6.37px">235-131</div><div class="wk" style="top:1.37px;color:#921a7e">34</div><div class="st" style="left:85px;top:0;height:10.68px;background:#f2845f"></div><div class="st" style="left:86px;top:0;height:10.68px;background:#5ea3c6"></div><div class="st" style="left:87px;top:0;height:10.68px;background:#b3d35a"></div></div>
<div class="r" style="top:381.26px"><div class="sep" style="top:10.33px;background:#e6cbe2"></div><div class="dl" style="top:0.74px;transform:scaleX(0.75)">V</div><div class="dn" style="top:0.74px"><span>23</span></div><div class="nm" style="top:0.74px">Rose de Lima</div><div class="nb" style="top:5.74px">236-130</div><div class="st" style="left:85px;top:0;height:10.68px;background:#f2845f"></div><div class="st" style="left:86px;top:0;height:10.68px;background:#5ea3c6"></div><div class="st" style="left:87px;top:0;height:10.68px;background:#b3d35a"></div></div>
<div class="r" style="top:391.89px"><div class="sep" style="top:10.33px;background:#e6cbe2"></div><div class="dl" style="top:0.11px;transform:scaleX(0.76)">S</div><div class="dn" style="top:0.11px"><span>24</span></div><div class="nm" style="top:0.11px">Barthélemy</div><div class="nb" style="top:6.11px">237-129</div><div class="st" style="left:85px;top:0;height:10.68px;background:#f2845f"></div><div class="st" style="left:86px;top:0;height:10.68px;background:#5ea3c6"></div><div class="st" style="left:87px;top:0;height:10.68px;background:#b3d35a"></div></div>
<div class="r inv" style="top:402.52px"><div class="bar" style="top:0;height:10.68px;background:#921a7e"></div><div class="dl" style="top:0.48px;transform:scaleX(0.75)">D</div><div class="dn" style="top:0.48px"><span>25</span></div><div class="nm" style="top:0.48px">Louis</div><div class="nb" style="top:6.48px">238-128</div><div class="st" style="left:85px;top:0;height:10.68px;background:#f2845f"></div><div class="st" style="left:86px;top:0;height:10.68px;background:#5ea3c6"></div><div class="st" style="left:87px;top:0;height:10.68px;background:#b3d35a"></div></div>
<div class="r" style="top:413.15px"><div class="sep" style="top:10.33px;background:#e6cbe2"></div><div class="dl" style="top:0.85px;transform:scaleX(0.8)">L</div><div class="dn" style="top:0.85px"><span>26</span></div><div class="nm" style="top:0.85px">Natacha</div><div class="nb" style="top:5.85px">239-127</div><div class="ic" style="left:29.8px">▲</div><span style="top:3.05px" class="mn mlq"></span><div class="st" style="left:85px;top:0;height:10.68px;background:#f2845f"></div><div class="st" style="left:86px;top:0;height:10.68px;background:#5ea3c6"></div><div class="st" style="left:87px;top:0;height:10.68px;background:#b3d35a"></div></div>
<div class="r" style="top:423.78px"><div class="sep" style="top:10.33px;background:#e6cbe2"></div><div class="dl" style="top:0.22px;transform:scaleX(0.6)">M</div><div class="dn" style="top:0.22px"><span>27</span></div><div class="nm" style="top:0.22px">Monique</div><div class="nb" style="top:6.22px">240-126</div><div class="st" style="left:85px;top:0;height:10.68px;background:#f2845f"></div><div class="st" style="left:86px;top:0;height:10.68px;background:#5ea3c6"></div><div class="st" style="left:87px;top:0;height:10.68px;background:#b3d35a"></div></div>
<div class="r" style="top:434.41px"><div class="sep" style="top:10.33px;background:#e6cbe2"></div><div class="dl" style="top:0.59px;transform:scaleX(0.6)">M</div><div class="dn" style="top:0.59px"><span>28</span></div><div class="nm" style="top:0.59px">Augustin</div><div class="nb" style="top:5.59px">241-125</div><div class="st" style="left:85px;top:0;height:10.68px;background:#f2845f"></div><div class="st" style="left:86px;top:0;height:10.68px;background:#5ea3c6"></div><div class="st" style="left:87px;top:0;height:10.68px;background:#b3d35a"></div></div>
<div class="r" style="top:445.04px"><div class="sep" style="top:10.33px;background:#e6cbe2"></div><div class="dl" style="top:0.96px;transform:scaleX(0.95)">J</div><div class="dn" style="top:0.96px"><span>29</span></div><div class="nm" style="top:0.96px">Sabine</div><div class="nb" style="top:5.96px">242-124</div><div class="wk" style="top:0.96px;color:#921a7e">35</div><div class="st" style="left:85px;top:0;height:10.68px;background:#f2845f"></div><div class="st" style="left:86px;top:0;height:10.68px;background:#5ea3c6"></div><div class="st" style="left:87px;top:0;height:10.68px;background:#b3d35a"></div></div>
<div class="r" style="top:455.67px"><div class="sep" style="top:10.33px;background:#e6cbe2"></div><div class="dl" style="top:0.33px;transform:scaleX(0.75)">V</div><div class="dn" style="top:0.33px"><span>30</span></div><div class="nm" style="top:0.33px">Fiacre</div><div class="nb" style="top:6.33px">243-123</div><div class="st" style="left:85px;top:0;height:10.68px;background:#f2845f"></div><div class="st" style="left:86px;top:0;height:10.68px;background:#5ea3c6"></div><div class="st" style="left:87px;top:0;height:10.68px;background:#b3d35a"></div></div>
<div class="r" style="top:466.3px"><div class="dl" style="top:0.7px;transform:scaleX(0.76)">S</div><div class="dn" style="top:0.7px"><span>3<i>1</i></span></div><div class="nm" style="top:0.7px">Aristide</div><div class="nb" style="top:5.7px">244-122</div><div class="st" style="left:85px;top:0;height:10.68px;background:#f2845f"></div><div class="st" style="left:86px;top:0;height:10.68px;background:#5ea3c6"></div><div class="st" style="left:87px;top:0;height:10.68px;background:#b3d35a"></div></div>
</div>
<div class="jo" style="left:104.9px;color:#921a7e"><span>JOURS OUVRABLES : 26 - JOURS OUVRÉS : 21</span></div>
<div class="mt" style="left:200.6px;color:#921a7e"><span style="transform:scaleX(0.86)">SEPTEMBRE</span></div>
<div class="col" style="left:200.6px">
<div class="r inv" style="top:147.4px"><div class="bar" style="top:0;height:10.68px;background:#921a7e"></div><div class="dl" style="top:0.6px;transform:scaleX(0.75)">D</div><div class="dn" style="top:0.6px"><span>1</span></div><div class="nm" style="top:0.6px">Gilles</div><div class="nb" style="top:5.6px">245-121</div><div class="st" style="left:85px;top:0;height:10.68px;background:#f2845f"></div><div class="st" style="left:86px;top:0;height:10.68px;background:#5ea3c6"></div><div class="st" style="left:87px;top:0;height:10.68px;background:#b3d35a"></div></div>
<div class="r" style="top:158.03px"><div class="sep" style="top:10.33px;background:#e6cbe2"></div><div class="dl" style="top:0.97px;transform:scaleX(0.8)">L</div><div class="dn" style="top:0.97px"><span>2</span></div><div class="nm" style="top:0.97px">Ingrid</div><div class="nb" style="top:5.97px">246-120</div><div class="ic" style="left:29.8px">M 9</div></div>
<div class="r" style="top:168.66px"><div class="sep" style="top:10.33px;background:#e6cbe2"></div><div class="dl" style="top:0.34px;transform:scaleX(0.6)">M</div><div class="dn" style="top:0.34px"><span>3</span></div><div class="nm" style="top:0.34px">Grégoire</div><div class="nb" style="top:6.34px">247-119</div><span style="top:3.05px" class="mn mnew"></span></div>
<div class="r" style="top:179.29px"><div class="sep" style="top:10.33px;background:#e6cbe2"></div><div class="dl" style="top:0.71px;transform:scaleX(0.6)">M</div><div class="dn" style="top:0.71px"><span>4</span></div><div class="nm" style="top:0.71px">Rosalie</div><div class="nb" style="top:5.71px">248-118</div></div>
<div class="r" style="top:189.92px"><div class="sep" style="top:10.33px;background:#e6cbe2"></div><div class="dl" style="top:1.08px;transform:scaleX(0.95)">J</div><div class="dn" style="top:1.08px"><span>5</span></div><div class="nm" style="top:1.08px">Raïssa</div><div class="nb" style="top:6.08px">249-117</div><div class="wk" style="top:1.08px;color:#921a7e">36</div></div>
<div class="r" style="top:200.55px"><div class="sep" style="top:10.33px;background:#e6cbe2"></div><div class="dl" style="top:0.45px;transform:scaleX(0.75)">V</div><div class="dn" style="top:0.45px"><span>6</span></div><div class="nm" style="top:0.45px">Bertrand</div><div class="nb" style="top:6.45px">250-116</div></div>
<div class="r" style="top:211.18px"><div class="sep" style="top:10.33px;background:#e6cbe2"></div><div class="dl" style="top:0.82px;transform:scaleX(0.76)">S</div><div class="dn" style="top:0.82px"><span>7</span></div><div class="nm" style="top:0.82px">Reine</div><div class="nb" style="top:5.82px">251-115</div></div>
<div class="r inv" style="top:221.81px"><div class="bar" style="top:0;height:10.68px;background:#921a7e"></div><div class="dl" style="top:0.19px;transform:scaleX(0.75)">D</div><div class="dn" style="top:0.19px"><span>8</span></div><div class="nm" style="top:0.19px">Nativité N.-D.</div><div class="nb" style="top:6.19px">252-114</div></div>
<div class="r" style="top:232.44px"><div class="sep" style="top:10.33px;background:#e6cbe2"></div><div class="dl" style="top:0.56px;transform:scaleX(0.8)">L</div><div class="dn" style="top:0.56px"><span>9</span></div><div class="nm" style="top:0.56px">Alain</div><div class="nb" style="top:5.56px">253-113</div></div>
<div class="r" style="top:243.07px"><div class="sep" style="top:10.33px;background:#e6cbe2"></div><div class="dl" style="top:0.93px;transform:scaleX(0.6)">M</div><div class="dn" style="top:0.93px"><span><i>1</i>0</span></div><div class="nm" style="top:0.93px">Inès</div><div class="nb" style="top:5.93px">254-112</div></div>
<div class="r" style="top:253.7px"><div class="sep" style="top:10.33px;background:#e6cbe2"></div><div class="dl" style="top:0.3px;transform:scaleX(0.6)">M</div><div class="dn" style="top:0.3px"><span><i>1</i><i>1</i></span></div><div class="nm" style="top:0.3px">Adelphe</div><div class="nb" style="top:6.3px">255-111</div><span style="top:3.05px" class="mn mfq"></span></div>
<div class="r" style="top:264.33px"><div class="sep" style="top:10.33px;background:#e6cbe2"></div><div class="dl" style="top:0.67px;transform:scaleX(0.95)">J</div><div class="dn" style="top:0.67px"><span><i>1</i>2</span></div><div class="nm" style="top:0.67px">Apollinaire</div><div class="nb" style="top:5.67px">256-110</div><div class="wk" style="top:1.67px;color:#921a7e">37</div></div>
<div class="r" style="top:274.96px"><div class="sep" style="top:10.33px;background:#e6cbe2"></div><div class="dl" style="top:1.04px;transform:scaleX(0.75)">V</div><div class="dn" style="top:1.04px"><span><i>1</i>3</span></div><div class="nm" style="top:1.04px">Aimé</div><div class="nb" style="top:6.04px">257-109</div></div>
<div class="r" style="top:285.59px"><div class="sep" style="top:10.33px;background:#e6cbe2"></div><div class="dl" style="top:0.41px;transform:scaleX(0.76)">S</div><div class="dn" style="top:0.41px"><span><i>1</i>4</span></div><div class="nm" style="top:0.41px">Croix Glorieuse</div><div class="nb" style="top:6.41px">258-108</div></div>
<div class="r inv" style="top:296.22px"><div class="bar" style="top:0;height:10.68px;background:#921a7e"></div><div class="dl" style="top:0.78px;transform:scaleX(0.75)">D</div><div class="dn" style="top:0.78px"><span><i>1</i>5</span></div><div class="nm" style="top:0.78px">Roland</div><div class="nb" style="top:5.78px">259-107</div></div>
<div class="r" style="top:306.85px"><div class="sep" style="top:10.33px;background:#e6cbe2"></div><div class="dl" style="top:0.15px;transform:scaleX(0.8)">L</div><div class="dn" style="top:0.15px"><span><i>1</i>6</span></div><div class="nm" style="top:0.15px">Édith</div><div class="nb" style="top:6.15px">260-106</div></div>
<div class="r" style="top:317.48px"><div class="sep" style="top:10.33px;background:#e6cbe2"></div><div class="dl" style="top:0.52px;transform:scaleX(0.6)">M</div><div class="dn" style="top:0.52px"><span><i>1</i>7</span></div><div class="nm" style="top:0.52px">Renaud</div><div class="nb" style="top:5.52px">261-105</div></div>
<div class="r" style="top:328.11px"><div class="sep" style="top:10.33px;background:#e6cbe2"></div><div class="dl" style="top:0.89px;transform:scaleX(0.6)">M</div><div class="dn" style="top:0.89px"><span><i>1</i>8</span></div><div class="nm" style="top:0.89px">Nadège</div><div class="nb" style="top:5.89px">262-104</div><span style="top:3.05px" class="mn mfull"></span></div>
<div class="r" style="top:338.74px"><div class="sep" style="top:10.33px;background:#e6cbe2"></div><div class="dl" style="top:0.26px;transform:scaleX(0.95)">J</div><div class="dn" style="top:0.26px"><span><i>1</i>9</span></div><div class="nm" style="top:0.26px">Émilie</div><div class="nb" style="top:6.26px">263-103</div><div class="wk" style="top:1.26px;color:#921a7e">38</div></div>
<div class="r" style="top:349.37px"><div class="sep" style="top:10.33px;background:#e6cbe2"></div><div class="dl" style="top:0.63px;transform:scaleX(0.75)">V</div><div class="dn" style="top:0.63px"><span>20</span></div><div class="nm" style="top:0.63px">Davy</div><div class="nb" style="top:5.63px">264-102</div></div>
<div class="r" style="top:360px"><div class="sep" style="top:10.33px;background:#e6cbe2"></div><div class="dl" style="top:1px;transform:scaleX(0.76)">S</div><div class="dn" style="top:1px"><span>2<i>1</i></span></div><div class="nm" style="top:1px">Matthieu</div><div class="nb" style="top:6px">265-101</div></div>
<div class="r inv" style="top:370.63px"><div class="bar" style="top:0;height:10.68px;background:#921a7e"></div><div class="dl" style="top:0.37px;transform:scaleX(0.75)">D</div><div class="dn" style="top:0.37px"><span>22</span></div><div class="nm" style="top:0.37px">AUTOMNE</div><div class="nb" style="top:6.37px">266-100</div></div>
<div class="r" style="top:381.26px"><div class="sep" style="top:10.33px;background:#e6cbe2"></div><div class="dl" style="top:0.74px;transform:scaleX(0.8)">L</div><div class="dn" style="top:0.74px"><span>23</span></div><div class="nm" style="top:0.74px">Constant</div><div class="nb" style="top:5.74px">267-99</div></div>
<div class="r" style="top:391.89px"><div class="sep" style="top:10.33px;background:#e6cbe2"></div><div class="dl" style="top:0.11px;transform:scaleX(0.6)">M</div><div class="dn" style="top:0.11px"><span>24</span></div><div class="nm" style="top:0.11px">Thècle</div><div class="nb" style="top:6.11px">268-98</div><span style="top:3.05px" class="mn mlq"></span></div>
<div class="r" style="top:402.52px"><div class="sep" style="top:10.33px;background:#e6cbe2"></div><div class="dl" style="top:0.48px;transform:scaleX(0.6)">M</div><div class="dn" style="top:0.48px"><span>25</span></div><div class="nm" style="top:0.48px">Hermann</div><div class="nb" style="top:6.48px">269-97</div></div>
<div class="r" style="top:413.15px"><div class="sep" style="top:10.33px;background:#e6cbe2"></div><div class="dl" style="top:0.85px;transform:scaleX(0.95)">J</div><div class="dn" style="top:0.85px"><span>26</span></div><div class="nm" style="top:0.85px">Côme, Damien</div><div class="nb" style="top:5.85px">270-96</div><div class="wk" style="top:0.85px;color:#921a7e">39</div></div>
<div class="r" style="top:423.78px"><div class="sep" style="top:10.33px;background:#e6cbe2"></div><div class="dl" style="top:0.22px;transform:scaleX(0.75)">V</div><div class="dn" style="top:0.22px"><span>27</span></div><div class="nm" style="top:0.22px">Vinc. de Paul</div><div class="nb" style="top:6.22px">271-95</div><div class="ic" style="left:29.8px">ʟ</div></div>
<div class="r" style="top:434.41px"><div class="sep" style="top:10.33px;background:#e6cbe2"></div><div class="dl" style="top:0.59px;transform:scaleX(0.76)">S</div><div class="dn" style="top:0.59px"><span>28</span></div><div class="nm" style="top:0.59px">Venceslas</div><div class="nb" style="top:5.59px">272-94</div></div>
<div class="r inv" style="top:445.04px"><div class="bar" style="top:0;height:10.68px;background:#921a7e"></div><div class="dl" style="top:0.96px;transform:scaleX(0.75)">D</div><div class="dn" style="top:0.96px"><span>29</span></div><div class="nm" style="top:0.96px">Michel</div><div class="nb" style="top:5.96px">273-93</div></div>
<div class="r" style="top:455.67px"><div class="dl" style="top:0.33px;transform:scaleX(0.8)">L</div><div class="dn" style="top:0.33px"><span>30</span></div><div class="nm" style="top:0.33px">Jérôme</div><div class="nb" style="top:6.33px">274-92</div></div>
</div>
<div class="jo" style="left:200.6px;color:#921a7e"><span>JOURS OUVRABLES : 25 - JOURS OUVRÉS : 21</span></div>
<div class="mt" style="left:296.3px;color:#009384"><span style="transform:scaleX(0.82)">OCTOBRE</span></div>
<div class="col" style="left:296.3px">
<div class="r" style="top:147.4px"><div class="sep" style="top:10.33px;background:#cfe9e6"></div><div class="dl" style="top:0.6px;transform:scaleX(0.6)">M</div><div class="dn" style="top:0.6px"><span>1</span></div><div class="nm" style="top:0.6px">Thérèse de l&#x27;E.-J.</div><div class="nb" style="top:5.6px">275-91</div></div>
<div class="r" style="top:158.03px"><div class="sep" style="top:10.33px;background:#cfe9e6"></div><div class="dl" style="top:0.97px;transform:scaleX(0.6)">M</div><div class="dn" style="top:0.97px"><span>2</span></div><div class="nm" style="top:0.97px">Léger</div><div class="nb" style="top:5.97px">276-90</div><span style="top:3.05px" class="mn mnew"></span></div>
<div class="r" style="top:168.66px"><div class="sep" style="top:10.33px;background:#cfe9e6"></div><div class="dl" style="top:0.34px;transform:scaleX(0.95)">J</div><div class="dn" style="top:0.34px"><span>3</span></div><div class="nm" style="top:0.34px">Gérard</div><div class="nb" style="top:6.34px">277-89</div><div class="ic" style="left:29.8px">●</div><div class="wk" style="top:1.34px;color:#009384">40</div></div>
<div class="r" style="top:179.29px"><div class="sep" style="top:10.33px;background:#cfe9e6"></div><div class="dl" style="top:0.71px;transform:scaleX(0.75)">V</div><div class="dn" style="top:0.71px"><span>4</span></div><div class="nm" style="top:0.71px">François d&#x27;Ass.</div><div class="nb" style="top:5.71px">278-88</div></div>
<div class="r" style="top:189.92px"><div class="sep" style="top:10.33px;background:#cfe9e6"></div><div class="dl" style="top:1.08px;transform:scaleX(0.76)">S</div><div class="dn" style="top:1.08px"><span>5</span></div><div class="nm" style="top:1.08px">Fleur</div><div class="nb" style="top:6.08px">279-87</div><div class="ic" style="left:29.8px">✲</div></div>
<div class="r inv" style="top:200.55px"><div class="bar" style="top:0;height:10.68px;background:#009384"></div><div class="dl" style="top:0.45px;transform:scaleX(0.75)">D</div><div class="dn" style="top:0.45px"><span>6</span></div><div class="nm" style="top:0.45px">Bruno</div><div class="nb" style="top:6.45px">280-86</div></div>
<div class="r" style="top:211.18px"><div class="sep" style="top:10.33px;background:#cfe9e6"></div><div class="dl" style="top:0.82px;transform:scaleX(0.8)">L</div><div class="dn" style="top:0.82px"><span>7</span></div><div class="nm" style="top:0.82px">Serge</div><div class="nb" style="top:5.82px">281-85</div></div>
<div class="r" style="top:221.81px"><div class="sep" style="top:10.33px;background:#cfe9e6"></div><div class="dl" style="top:0.19px;transform:scaleX(0.6)">M</div><div class="dn" style="top:0.19px"><span>8</span></div><div class="nm" style="top:0.19px">Pélagie</div><div class="nb" style="top:6.19px">282-84</div></div>
<div class="r" style="top:232.44px"><div class="sep" style="top:10.33px;background:#cfe9e6"></div><div class="dl" style="top:0.56px;transform:scaleX(0.6)">M</div><div class="dn" style="top:0.56px"><span>9</span></div><div class="nm" style="top:0.56px">Denis</div><div class="nb" style="top:5.56px">283-83</div></div>
<div class="r" style="top:243.07px"><div class="sep" style="top:10.33px;background:#cfe9e6"></div><div class="dl" style="top:0.93px;transform:scaleX(0.95)">J</div><div class="dn" style="top:0.93px"><span><i>1</i>0</span></div><div class="nm" style="top:0.93px">Ghislain</div><div class="nb" style="top:5.93px">284-82</div><div class="wk" style="top:0.93px;color:#009384">41</div><span style="top:3.05px" class="mn mfq"></span></div>
<div class="r" style="top:253.7px"><div class="sep" style="top:10.33px;background:#cfe9e6"></div><div class="dl" style="top:0.3px;transform:scaleX(0.75)">V</div><div class="dn" style="top:0.3px"><span><i>1</i><i>1</i></span></div><div class="nm" style="top:0.3px">Firmin</div><div class="nb" style="top:6.3px">285-81</div></div>
<div class="r" style="top:264.33px"><div class="sep" style="top:10.33px;background:#cfe9e6"></div><div class="dl" style="top:0.67px;transform:scaleX(0.76)">S</div><div class="dn" style="top:0.67px"><span><i>1</i>2</span></div><div class="nm" style="top:0.67px">Wilfried</div><div class="nb" style="top:5.67px">286-80</div><div class="ic" style="left:29.8px">◆</div></div>
<div class="r inv" style="top:274.96px"><div class="bar" style="top:0;height:10.68px;background:#009384"></div><div class="dl" style="top:1.04px;transform:scaleX(0.75)">D</div><div class="dn" style="top:1.04px"><span><i>1</i>3</span></div><div class="nm" style="top:1.04px">Géraud</div><div class="nb" style="top:6.04px">287-79</div></div>
<div class="r" style="top:285.59px"><div class="sep" style="top:10.33px;background:#cfe9e6"></div><div class="dl" style="top:0.41px;transform:scaleX(0.8)">L</div><div class="dn" style="top:0.41px"><span><i>1</i>4</span></div><div class="nm" style="top:0.41px">Juste</div><div class="nb" style="top:6.41px">288-78</div><div class="ic" style="left:29.8px">▮</div></div>
<div class="r" style="top:296.22px"><div class="sep" style="top:10.33px;background:#cfe9e6"></div><div class="dl" style="top:0.78px;transform:scaleX(0.6)">M</div><div class="dn" style="top:0.78px"><span><i>1</i>5</span></div><div class="nm" style="top:0.78px">Thérèse d&#x27;Avila</div><div class="nb" style="top:5.78px">289-77</div></div>
<div class="r" style="top:306.85px"><div class="sep" style="top:10.33px;background:#cfe9e6"></div><div class="dl" style="top:0.15px;transform:scaleX(0.6)">M</div><div class="dn" style="top:0.15px"><span><i>1</i>6</span></div><div class="nm" style="top:0.15px">Edwige</div><div class="nb" style="top:6.15px">290-76</div></div>
<div class="r" style="top:317.48px"><div class="sep" style="top:10.33px;background:#cfe9e6"></div><div class="dl" style="top:0.52px;transform:scaleX(0.95)">J</div><div class="dn" style="top:0.52px"><span><i>1</i>7</span></div><div class="nm" style="top:0.52px">Baudouin</div><div class="nb" style="top:5.52px">291-75</div><div class="wk" style="top:1.52px;color:#009384">42</div><span style="top:3.05px" class="mn mfull"></span></div>
<div class="r" style="top:328.11px"><div class="sep" style="top:10.33px;background:#cfe9e6"></div><div class="dl" style="top:0.89px;transform:scaleX(0.75)">V</div><div class="dn" style="top:0.89px"><span><i>1</i>8</span></div><div class="nm" style="top:0.89px">Luc</div><div class="nb" style="top:5.89px">292-74</div></div>
<div class="r" style="top:338.74px"><div class="sep" style="top:10.33px;background:#cfe9e6"></div><div class="dl" style="top:0.26px;transform:scaleX(0.76)">S</div><div class="dn" style="top:0.26px"><span><i>1</i>9</span></div><div class="nm" style="top:0.26px">René</div><div class="nb" style="top:6.26px">293-73</div></div>
<div class="r inv" style="top:349.37px"><div class="bar" style="top:0;height:10.68px;background:#009384"></div><div class="dl" style="top:0.63px;transform:scaleX(0.75)">D</div><div class="dn" style="top:0.63px"><span>20</span></div><div class="nm" style="top:0.63px">Adeline</div><div class="nb" style="top:5.63px">294-72</div><div class="st" style="left:85px;top:0;height:10.68px;background:#f2845f"></div><div class="st" style="left:86px;top:0;height:10.68px;background:#5ea3c6"></div><div class="st" style="left:87px;top:0;height:10.68px;background:#b3d35a"></div></div>
<div class="r" style="top:360px"><div class="sep" style="top:10.33px;background:#cfe9e6"></div><div class="dl" style="top:1px;transform:scaleX(0.8)">L</div><div class="dn" style="top:1px"><span>2<i>1</i></span></div><div class="nm" style="top:1px">Céline</div><div class="nb" style="top:6px">295-71</div><div class="st" style="left:85px;top:0;height:10.68px;background:#f2845f"></div><div class="st" style="left:86px;top:0;height:10.68px;background:#5ea3c6"></div><div class="st" style="left:87px;top:0;height:10.68px;background:#b3d35a"></div></div>
<div class="r" style="top:370.63px"><div class="sep" style="top:10.33px;background:#cfe9e6"></div><div class="dl" style="top:0.37px;transform:scaleX(0.6)">M</div><div class="dn" style="top:0.37px"><span>22</span></div><div class="nm" style="top:0.37px">Élodie</div><div class="nb" style="top:6.37px">296-70</div><div class="st" style="left:85px;top:0;height:10.68px;background:#f2845f"></div><div class="st" style="left:86px;top:0;height:10.68px;background:#5ea3c6"></div><div class="st" style="left:87px;top:0;height:10.68px;background:#b3d35a"></div></div>
<div class="r" style="top:381.26px"><div class="sep" style="top:10.33px;background:#cfe9e6"></div><div class="dl" style="top:0.74px;transform:scaleX(0.6)">M</div><div class="dn" style="top:0.74px"><span>23</span></div><div class="nm" style="top:0.74px">Jean de C.</div><div class="nb" style="top:5.74px">297-69</div><div class="st" style="left:85px;top:0;height:10.68px;background:#f2845f"></div><div class="st" style="left:86px;top:0;height:10.68px;background:#5ea3c6"></div><div class="st" style="left:87px;top:0;height:10.68px;background:#b3d35a"></div></div>
<div class="r" style="top:391.89px"><div class="sep" style="top:10.33px;background:#cfe9e6"></div><div class="dl" style="top:0.11px;transform:scaleX(0.95)">J</div><div class="dn" style="top:0.11px"><span>24</span></div><div class="nm" style="top:0.11px">Florentin</div><div class="nb" style="top:6.11px">298-68</div><div class="wk" style="top:1.11px;color:#009384">43</div><span style="top:3.05px" class="mn mlq"></span><div class="st" style="left:85px;top:0;height:10.68px;background:#f2845f"></div><div class="st" style="left:86px;top:0;height:10.68px;background:#5ea3c6"></div><div class="st" style="left:87px;top:0;height:10.68px;background:#b3d35a"></div></div>
<div class="r" style="top:402.52px"><div class="sep" style="top:10.33px;background:#cfe9e6"></div><div class="dl" style="top:0.48px;transform:scaleX(0.75)">V</div><div class="dn" style="top:0.48px"><span>25</span></div><div class="nm" style="top:0.48px">Crépin</div><div class="nb" style="top:6.48px">299-67</div><div class="st" style="left:85px;top:0;height:10.68px;background:#f2845f"></div><div class="st" style="left:86px;top:0;height:10.68px;background:#5ea3c6"></div><div class="st" style="left:87px;top:0;height:10.68px;background:#b3d35a"></div></div>
<div class="r" style="top:413.15px"><div class="sep" style="top:10.33px;background:#cfe9e6"></div><div class="dl" style="top:0.85px;transform:scaleX(0.76)">S</div><div class="dn" style="top:0.85px"><span>26</span></div><div class="nm" style="top:0.85px">Dimitri</div><div class="nb" style="top:5.85px">300-66</div><div class="st" style="left:85px;top:0;height:10.68px;background:#f2845f"></div><div class="st" style="left:86px;top:0;height:10.68px;background:#5ea3c6"></div><div class="st" style="left:87px;top:0;height:10.68px;background:#b3d35a"></div></div>
<div class="r inv" style="top:423.78px"><div class="bar" style="top:0;height:10.68px;background:#009384"></div><div class="dl" style="top:0.22px;transform:scaleX(0.75)">D</div><div class="dn" style="top:0.22px"><span>27</span></div><div class="nm" style="top:0.22px">Émeline</div><div class="nb" style="top:6.22px">301-65</div><div class="dst"><div class="pill"><b>HEURE D&#39;HIVER</b></div><div class="clk">-1h</div></div><div class="st" style="left:85px;top:0;height:10.68px;background:#f2845f"></div><div class="st" style="left:86px;top:0;height:10.68px;background:#5ea3c6"></div><div class="st" style="left:87px;top:0;height:10.68px;background:#b3d35a"></div></div>
<div class="r" style="top:434.41px"><div class="sep" style="top:10.33px;background:#cfe9e6"></div><div class="dl" style="top:0.59px;transform:scaleX(0.8)">L</div><div class="dn" style="top:0.59px"><span>28</span></div><div class="nm" style="top:0.59px">Simon, Jude</div><div class="nb" style="top:5.59px">302-64</div><div class="ic" style="left:29.8px">◆◆</div><div class="st" style="left:85px;top:0;height:10.68px;background:#f2845f"></div><div class="st" style="left:86px;top:0;height:10.68px;background:#5ea3c6"></div><div class="st" style="left:87px;top:0;height:10.68px;background:#b3d35a"></div></div>
<div class="r" style="top:445.04px"><div class="sep" style="top:10.33px;background:#cfe9e6"></div><div class="dl" style="top:0.96px;transform:scaleX(0.6)">M</div><div class="dn" style="top:0.96px"><span>29</span></div><div class="nm" style="top:0.96px">Narcisse</div><div class="nb" style="top:5.96px">303-63</div><div class="st" style="left:85px;top:0;height:10.68px;background:#f2845f"></div><div class="st" style="left:86px;top:0;height:10.68px;background:#5ea3c6"></div><div class="st" style="left:87px;top:0;height:10.68px;background:#b3d35a"></div></div>
<div class="r" style="top:455.67px"><div class="sep" style="top:10.33px;background:#cfe9e6"></div><div class="dl" style="top:0.33px;transform:scaleX(0.6)">M</div><div class="dn" style="top:0.33px"><span>30</span></div><div class="nm" style="top:0.33px">Bienvenue</div><div class="nb" style="top:6.33px">304-62</div><div class="st" style="left:85px;top:0;height:10.68px;background:#f2845f"></div><div class="st" style="left:86px;top:0;height:10.68px;background:#5ea3c6"></div><div class="st" style="left:87px;top:0;height:10.68px;background:#b3d35a"></div></div>
<div class="r" style="top:466.3px"><div class="dl" style="top:0.7px;transform:scaleX(0.95)">J</div><div class="dn" style="top:0.7px"><span>3<i>1</i></span></div><div class="nm" style="top:0.7px">Quentin</div><div class="nb" style="top:5.7px">305-61</div><div class="wk" style="top:1.7px;color:#009384">44</div><div class="st" style="left:85px;top:0;height:10.68px;background:#f2845f"></div><div class="st" style="left:86px;top:0;height:10.68px;background:#5ea3c6"></div><div class="st" style="left:87px;top:0;height:10.68px;background:#b3d35a"></div></div>
</div>
<div class="jo" style="left:296.3px;color:#009384"><span>JOURS OUVRABLES : 27 - JOURS OUVRÉS : 23</span></div>
<div class="mt" style="left:392px;color:#009384"><span style="transform:scaleX(0.85)">NOVEMBRE</span></div>
<div class="col" style="left:392px">
<div class="r inv" style="top:147.4px"><div class="bar" style="top:0;height:10.68px;background:#53afaa"></div><div class="dl" style="top:0.6px;transform:scaleX(0.75)">V</div><div class="dn" style="top:0.6px"><span>1</span></div><div class="nm" style="top:0.6px">TOUSSAINT</div><div class="nb" style="top:5.6px">306-60</div><div class="nb" style="top:5.6px;left:29px;font-weight:bold">(Les Défunts le 2 nov.)</div><span style="top:3.05px" class="mn mnew"></span><div class="st" style="left:85px;top:0;height:10.68px;background:#f2845f"></div><div class="st" style="left:86px;top:0;height:10.68px;background:#5ea3c6"></div><div class="st" style="left:87px;top:0;height:10.68px;background:#b3d35a"></div></div>
<div class="r" style="top:158.03px"><div class="sep" style="top:10.33px;background:#cfe9e6"></div><div class="dl" style="top:0.97px;transform:scaleX(0.76)">S</div><div class="dn" style="top:0.97px"><span>2</span></div><div class="nm" style="top:0.97px">Défunts</div><div class="nb" style="top:5.97px">307-59</div><div class="st" style="left:85px;top:0;height:10.68px;background:#f2845f"></div><div class="st" style="left:86px;top:0;height:10.68px;background:#5ea3c6"></div><div class="st" style="left:87px;top:0;height:10.68px;background:#b3d35a"></div></div>
<div class="r inv" style="top:168.66px"><div class="bar" style="top:0;height:10.68px;background:#009384"></div><div class="dl" style="top:0.34px;transform:scaleX(0.75)">D</div><div class="dn" style="top:0.34px"><span>3</span></div><div class="nm" style="top:0.34px">Hubert</div><div class="nb" style="top:6.34px">308-58</div><div class="st" style="left:85px;top:0;height:10.68px;background:#f2845f"></div><div class="st" style="left:86px;top:0;height:10.68px;background:#5ea3c6"></div><div class="st" style="left:87px;top:0;height:10.68px;background:#b3d35a"></div></div>
<div class="r" style="top:179.29px"><div class="sep" style="top:10.33px;background:#cfe9e6"></div><div class="dl" style="top:0.71px;transform:scaleX(0.8)">L</div><div class="dn" style="top:0.71px"><span>4</span></div><div class="nm" style="top:0.71px">Charles</div><div class="nb" style="top:5.71px">309-57</div></div>
<div class="r" style="top:189.92px"><div class="sep" style="top:10.33px;background:#cfe9e6"></div><div class="dl" style="top:1.08px;transform:scaleX(0.6)">M</div><div class="dn" style="top:1.08px"><span>5</span></div><div class="nm" style="top:1.08px">Sylvie</div><div class="nb" style="top:6.08px">310-56</div></div>
<div class="r" style="top:200.55px"><div class="sep" style="top:10.33px;background:#cfe9e6"></div><div class="dl" style="top:0.45px;transform:scaleX(0.6)">M</div><div class="dn" style="top:0.45px"><span>6</span></div><div class="nm" style="top:0.45px">Léonard</div><div class="nb" style="top:6.45px">311-55</div></div>
<div class="r" style="top:211.18px"><div class="sep" style="top:10.33px;background:#cfe9e6"></div><div class="dl" style="top:0.82px;transform:scaleX(0.95)">J</div><div class="dn" style="top:0.82px"><span>7</span></div><div class="nm" style="top:0.82px">Carine</div><div class="nb" style="top:5.82px">312-54</div><div class="wk" style="top:0.82px;color:#009384">45</div></div>
<div class="r" style="top:221.81px"><div class="sep" style="top:10.33px;background:#cfe9e6"></div><div class="dl" style="top:0.19px;transform:scaleX(0.75)">V</div><div class="dn" style="top:0.19px"><span>8</span></div><div class="nm" style="top:0.19px">Geoffroy</div><div class="nb" style="top:6.19px">313-53</div></div>
<div class="r" style="top:232.44px"><div class="sep" style="top:10.33px;background:#cfe9e6"></div><div class="dl" style="top:0.56px;transform:scaleX(0.76)">S</div><div class="dn" style="top:0.56px"><span>9</span></div><div class="nm" style="top:0.56px">Théodore</div><div class="nb" style="top:5.56px">314-52</div><span style="top:3.05px" class="mn mfq"></span></div>
<div class="r inv" style="top:243.07px"><div class="bar" style="top:0;height:10.68px;background:#009384"></div><div class="dl" style="top:0.93px;transform:scaleX(0.75)">D</div><div class="dn" style="top:0.93px"><span><i>1</i>0</span></div><div class="nm" style="top:0.93px">Léon</div><div class="nb" style="top:5.93px">315-51</div></div>
<div class="r inv" style="top:253.7px"><div class="bar" style="top:0;height:10.68px;background:#53afaa"></div><div class="dl" style="top:0.3px;transform:scaleX(0.8)">L</div><div class="dn" style="top:0.3px"><span><i>1</i><i>1</i></span></div><div class="nm" style="top:0.3px">ARMISTICE 1918</div><div class="nb" style="top:6.3px">316-50</div><div class="ic" style="left:29.8px">1 ▶</div></div>
<div class="r" style="top:264.33px"><div class="sep" style="top:10.33px;background:#cfe9e6"></div><div class="dl" style="top:0.67px;transform:scaleX(0.6)">M</div><div class="dn" style="top:0.67px"><span><i>1</i>2</span></div><div class="nm" style="top:0.67px">Christian</div><div class="nb" style="top:5.67px">317-49</div></div>
<div class="r" style="top:274.96px"><div class="sep" style="top:10.33px;background:#cfe9e6"></div><div class="dl" style="top:1.04px;transform:scaleX(0.6)">M</div><div class="dn" style="top:1.04px"><span><i>1</i>3</span></div><div class="nm" style="top:1.04px">Brice</div><div class="nb" style="top:6.04px">318-48</div></div>
<div class="r" style="top:285.59px"><div class="sep" style="top:10.33px;background:#cfe9e6"></div><div class="dl" style="top:0.41px;transform:scaleX(0.95)">J</div><div class="dn" style="top:0.41px"><span><i>1</i>4</span></div><div class="nm" style="top:0.41px">Sidoine</div><div class="nb" style="top:6.41px">319-47</div><div class="wk" style="top:1.41px;color:#009384">46</div></div>
<div class="r" style="top:296.22px"><div class="sep" style="top:10.33px;background:#cfe9e6"></div><div class="dl" style="top:0.78px;transform:scaleX(0.75)">V</div><div class="dn" style="top:0.78px"><span><i>1</i>5</span></div><div class="nm" style="top:0.78px">Albert</div><div class="nb" style="top:5.78px">320-46</div><div class="ic" style="left:29.8px">ʕ</div><span style="top:3.05px" class="mn mfull"></span></div>
<div class="r" style="top:306.85px"><div class="sep" style="top:10.33px;background:#cfe9e6"></div><div class="dl" style="top:0.15px;transform:scaleX(0.76)">S</div><div class="dn" style="top:0.15px"><span><i>1</i>6</span></div><div class="nm" style="top:0.15px">Marguerite</div><div class="nb" style="top:6.15px">321-45</div></div>
<div class="r inv" style="top:317.48px"><div class="bar" style="top:0;height:10.68px;background:#009384"></div><div class="dl" style="top:0.52px;transform:scaleX(0.75)">D</div><div class="dn" style="top:0.52px"><span><i>1</i>7</span></div><div class="nm" style="top:0.52px">Élisabeth</div><div class="nb" style="top:5.52px">322-44</div></div>
<div class="r" style="top:328.11px"><div class="sep" style="top:10.33px;background:#cfe9e6"></div><div class="dl" style="top:0.89px;transform:scaleX(0.8)">L</div><div class="dn" style="top:0.89px"><span><i>1</i>8</span></div><div class="nm" style="top:0.89px">Aude</div><div class="nb" style="top:5.89px">323-43</div></div>
<div class="r" style="top:338.74px"><div class="sep" style="top:10.33px;background:#cfe9e6"></div><div class="dl" style="top:0.26px;transform:scaleX(0.6)">M</div><div class="dn" style="top:0.26px"><span><i>1</i>9</span></div><div class="nm" style="top:0.26px">Tanguy</div><div class="nb" style="top:6.26px">324-42</div><div class="ic" style="left:29.8px">◆</div></div>
<div class="r" style="top:349.37px"><div class="sep" style="top:10.33px;background:#cfe9e6"></div><div class="dl" style="top:0.63px;transform:scaleX(0.6)">M</div><div class="dn" style="top:0.63px"><span>20</span></div><div class="nm" style="top:0.63px">Edmond</div><div class="nb" style="top:5.63px">325-41</div></div>
<div class="r" style="top:360px"><div class="sep" style="top:10.33px;background:#cfe9e6"></div><div class="dl" style="top:1px;transform:scaleX(0.95)">J</div><div class="dn" style="top:1px"><span>2<i>1</i></span></div><div class="nm" style="top:1px">Prés. de Marie</div><div class="nb" style="top:6px">326-40</div><div class="wk" style="top:1px;color:#009384">47</div></div>
<div class="r" style="top:370.63px"><div class="sep" style="top:10.33px;background:#cfe9e6"></div><div class="dl" style="top:0.37px;transform:scaleX(0.75)">V</div><div class="dn" style="top:0.37px"><span>22</span></div><div class="nm" style="top:0.37px">Cécile</div><div class="nb" style="top:6.37px">327-39</div></div>
<div class="r" style="top:381.26px"><div class="sep" style="top:10.33px;background:#cfe9e6"></div><div class="dl" style="top:0.74px;transform:scaleX(0.76)">S</div><div class="dn" style="top:0.74px"><span>23</span></div><div class="nm" style="top:0.74px">Clément</div><div class="nb" style="top:5.74px">328-38</div><span style="top:3.05px" class="mn mlq"></span></div>
<div class="r inv" style="top:391.89px"><div class="bar" style="top:0;height:10.68px;background:#009384"></div><div class="dl" style="top:0.11px;transform:scaleX(0.75)">D</div><div class="dn" style="top:0.11px"><span>24</span></div><div class="nm" style="top:0.11px">Christ Roi</div><div class="nb" style="top:6.11px">329-37</div></div>
<div class="r" style="top:402.52px"><div class="sep" style="top:10.33px;background:#cfe9e6"></div><div class="dl" style="top:0.48px;transform:scaleX(0.8)">L</div><div class="dn" style="top:0.48px"><span>25</span></div><div class="nm" style="top:0.48px">Catherine</div><div class="nb" style="top:6.48px">330-36</div></div>
<div class="r" style="top:413.15px"><div class="sep" style="top:10.33px;background:#cfe9e6"></div><div class="dl" style="top:0.85px;transform:scaleX(0.6)">M</div><div class="dn" style="top:0.85px"><span>26</span></div><div class="nm" style="top:0.85px">Delphine</div><div class="nb" style="top:5.85px">331-35</div></div>
<div class="r" style="top:423.78px"><div class="sep" style="top:10.33px;background:#cfe9e6"></div><div class="dl" style="top:0.22px;transform:scaleX(0.6)">M</div><div class="dn" style="top:0.22px"><span>27</span></div><div class="nm" style="top:0.22px">Séverin</div><div class="nb" style="top:6.22px">332-34</div></div>
<div class="r" style="top:434.41px"><div class="sep" style="top:10.33px;background:#cfe9e6"></div><div class="dl" style="top:0.59px;transform:scaleX(0.95)">J</div><div class="dn" style="top:0.59px"><span>28</span></div><div class="nm" style="top:0.59px">Jacq. de la M.</div><div class="nb" style="top:5.59px">333-33</div><div class="ic" style="left:29.8px">s</div><div class="wk" style="top:1.59px;color:#009384">48</div></div>
<div class="r" style="top:445.04px"><div class="sep" style="top:10.33px;background:#cfe9e6"></div><div class="dl" style="top:0.96px;transform:scaleX(0.75)">V</div><div class="dn" style="top:0.96px"><span>29</span></div><div class="nm" style="top:0.96px">Saturnin</div><div class="nb" style="top:5.96px">334-32</div><div class="ic" style="left:29.8px">●</div></div>
<div class="r" style="top:455.67px"><div class="dl" style="top:0.33px;transform:scaleX(0.76)">S</div><div class="dn" style="top:0.33px"><span>30</span></div><div class="nm" style="top:0.33px">André</div><div class="nb" style="top:6.33px">335-31</div></div>
</div>
<div class="jo" style="left:392px;color:#009384"><span>JOURS OUVRABLES : 24 - JOURS OUVRÉS : 19</span></div>
<div class="mt" style="left:487.7px;color:#009384"><span style="transform:scaleX(0.84)">DÉCEMBRE</span></div>
<div class="col" style="left:487.7px">
<div class="r inv" style="top:147.4px"><div class="bar" style="top:0;height:10.68px;background:#009384"></div><div class="dl" style="top:0.6px;transform:scaleX(0.75)">D</div><div class="dn" style="top:0.6px"><span>1</span></div><div class="nm" style="top:0.6px">Avent</div><div class="nb" style="top:5.6px">336-30</div><div class="ic" style="left:29.8px">✲</div><span style="top:3.05px" class="mn mnew"></span></div>
<div class="r" style="top:158.03px"><div class="sep" style="top:10.33px;background:#cfe9e6"></div><div class="dl" style="top:0.97px;transform:scaleX(0.8)">L</div><div class="dn" style="top:0.97px"><span>2</span></div><div class="nm" style="top:0.97px">Viviane</div><div class="nb" style="top:5.97px">337-29</div></div>
<div class="r" style="top:168.66px"><div class="sep" style="top:10.33px;background:#cfe9e6"></div><div class="dl" style="top:0.34px;transform:scaleX(0.6)">M</div><div class="dn" style="top:0.34px"><span>3</span></div><div class="nm" style="top:0.34px">François-Xav.</div><div class="nb" style="top:6.34px">338-28</div></div>
<div class="r" style="top:179.29px"><div class="sep" style="top:10.33px;background:#cfe9e6"></div><div class="dl" style="top:0.71px;transform:scaleX(0.6)">M</div><div class="dn" style="top:0.71px"><span>4</span></div><div class="nm" style="top:0.71px">Barbara</div><div class="nb" style="top:5.71px">339-27</div></div>
<div class="r" style="top:189.92px"><div class="sep" style="top:10.33px;background:#cfe9e6"></div><div class="dl" style="top:1.08px;transform:scaleX(0.95)">J</div><div class="dn" style="top:1.08px"><span>5</span></div><div class="nm" style="top:1.08px">Gérald</div><div class="nb" style="top:6.08px">340-26</div><div class="wk" style="top:1.08px;color:#009384">49</div></div>
<div class="r" style="top:200.55px"><div class="sep" style="top:10.33px;background:#cfe9e6"></div><div class="dl" style="top:0.45px;transform:scaleX(0.75)">V</div><div class="dn" style="top:0.45px"><span>6</span></div><div class="nm" style="top:0.45px">Nicolas</div><div class="nb" style="top:6.45px">341-25</div><div class="ic" style="left:29.8px">◆</div></div>
<div class="r" style="top:211.18px"><div class="sep" style="top:10.33px;background:#cfe9e6"></div><div class="dl" style="top:0.82px;transform:scaleX(0.76)">S</div><div class="dn" style="top:0.82px"><span>7</span></div><div class="nm" style="top:0.82px">Ambroise</div><div class="nb" style="top:5.82px">342-24</div></div>
<div class="r inv" style="top:221.81px"><div class="bar" style="top:0;height:10.68px;background:#009384"></div><div class="dl" style="top:0.19px;transform:scaleX(0.75)">D</div><div class="dn" style="top:0.19px"><span>8</span></div><div class="nm" style="top:0.19px">Elfried</div><div class="nb" style="top:6.19px">343-23</div><div class="ic" style="left:29.8px">→→◆</div><span style="top:3.05px" class="mn mfq"></span></div>
<div class="r" style="top:232.44px"><div class="sep" style="top:10.33px;background:#cfe9e6"></div><div class="dl" style="top:0.56px;transform:scaleX(0.8)">L</div><div class="dn" style="top:0.56px"><span>9</span></div><div class="nm" style="top:0.56px">Imm. Conception</div><div class="nb" style="top:5.56px">344-22</div></div>
<div class="r" style="top:243.07px"><div class="sep" style="top:10.33px;background:#cfe9e6"></div><div class="dl" style="top:0.93px;transform:scaleX(0.6)">M</div><div class="dn" style="top:0.93px"><span><i>1</i>0</span></div><div class="nm" style="top:0.93px">Romaric</div><div class="nb" style="top:5.93px">345-21</div></div>
<div class="r" style="top:253.7px"><div class="sep" style="top:10.33px;background:#cfe9e6"></div><div class="dl" style="top:0.3px;transform:scaleX(0.6)">M</div><div class="dn" style="top:0.3px"><span><i>1</i><i>1</i></span></div><div class="nm" style="top:0.3px">Daniel</div><div class="nb" style="top:6.3px">346-20</div></div>
<div class="r" style="top:264.33px"><div class="sep" style="top:10.33px;background:#cfe9e6"></div><div class="dl" style="top:0.67px;transform:scaleX(0.95)">J</div><div class="dn" style="top:0.67px"><span><i>1</i>2</span></div><div class="nm" style="top:0.67px">Corentin</div><div class="nb" style="top:5.67px">347-19</div><div class="wk" style="top:1.67px;color:#009384">50</div></div>
<div class="r" style="top:274.96px"><div class="sep" style="top:10.33px;background:#cfe9e6"></div><div class="dl" style="top:1.04px;transform:scaleX(0.75)">V</div><div class="dn" style="top:1.04px"><span><i>1</i>3</span></div><div class="nm" style="top:1.04px">Lucie</div><div class="nb" style="top:6.04px">348-18</div></div>
<div class="r" style="top:285.59px"><div class="sep" style="top:10.33px;background:#cfe9e6"></div><div class="dl" style="top:0.41px;transform:scaleX(0.76)">S</div><div class="dn" style="top:0.41px"><span><i>1</i>4</span></div><div class="nm" style="top:0.41px">Odile</div><div class="nb" style="top:6.41px">349-17</div></div>
<div class="r inv" style="top:296.22px"><div class="bar" style="top:0;height:10.68px;background:#009384"></div><div class="dl" style="top:0.78px;transform:scaleX(0.75)">D</div><div class="dn" style="top:0.78px"><span><i>1</i>5</span></div><div class="nm" style="top:0.78px">Ninon</div><div class="nb" style="top:5.78px">350-16</div><span style="top:3.05px" class="mn mfull"></span></div>
<div class="r" style="top:306.85px"><div class="sep" style="top:10.33px;background:#cfe9e6"></div><div class="dl" style="top:0.15px;transform:scaleX(0.8)">L</div><div class="dn" style="top:0.15px"><span><i>1</i>6</span></div><div class="nm" style="top:0.15px">Alice</div><div class="nb" style="top:6.15px">351-15</div></div>
<div class="r" style="top:317.48px"><div class="sep" style="top:10.33px;background:#cfe9e6"></div><div class="dl" style="top:0.52px;transform:scaleX(0.6)">M</div><div class="dn" style="top:0.52px"><span><i>1</i>7</span></div><div class="nm" style="top:0.52px">Judicaël, Gaël</div><div class="nb" style="top:5.52px">352-14</div></div>
<div class="r" style="top:328.11px"><div class="sep" style="top:10.33px;background:#cfe9e6"></div><div class="dl" style="top:0.89px;transform:scaleX(0.6)">M</div><div class="dn" style="top:0.89px"><span><i>1</i>8</span></div><div class="nm" style="top:0.89px">Gatien</div><div class="nb" style="top:5.89px">353-13</div></div>
<div class="r" style="top:338.74px"><div class="sep" style="top:10.33px;background:#cfe9e6"></div><div class="dl" style="top:0.26px;transform:scaleX(0.95)">J</div><div class="dn" style="top:0.26px"><span><i>1</i>9</span></div><div class="nm" style="top:0.26px">Urbain</div><div class="nb" style="top:6.26px">354-12</div><div class="wk" style="top:1.26px;color:#009384">51</div></div>
<div class="r" style="top:349.37px"><div class="sep" style="top:10.33px;background:#cfe9e6"></div><div class="dl" style="top:0.63px;transform:scaleX(0.75)">V</div><div class="dn" style="top:0.63px"><span>20</span></div><div class="nm" style="top:0.63px">Théophile</div><div class="nb" style="top:5.63px">355-11</div></div>
<div class="r" style="top:360px"><div class="sep" style="top:10.33px;background:#cfe9e6"></div><div class="dl" style="top:1px;transform:scaleX(0.76)">S</div><div class="dn" style="top:1px"><span>2<i>1</i></span></div><div class="nm" style="top:1px">HIVER</div><div class="nb" style="top:6px">356-10</div></div>
<div class="r inv" style="top:370.63px"><div class="bar" style="top:0;height:10.68px;background:#009384"></div><div class="dl" style="top:0.37px;transform:scaleX(0.75)">D</div><div class="dn" style="top:0.37px"><span>22</span></div><div class="nm" style="top:0.37px">Françoise-Xav.</div><div class="nb" style="top:6.37px">357-9</div><span style="top:3.05px" class="mn mlq"></span><div class="st" style="left:85px;top:0;height:10.68px;background:#f2845f"></div><div class="st" style="left:86px;top:0;height:10.68px;background:#5ea3c6"></div><div class="st" style="left:87px;top:0;height:10.68px;background:#b3d35a"></div></div>
<div class="r" style="top:381.26px"><div class="sep" style="top:10.33px;background:#cfe9e6"></div><div class="dl" style="top:0.74px;transform:scaleX(0.8)">L</div><div class="dn" style="top:0.74px"><span>23</span></div><div class="nm" style="top:0.74px">Armand</div><div class="nb" style="top:5.74px">358-8</div><div class="st" style="left:85px;top:0;height:10.68px;background:#f2845f"></div><div class="st" style="left:86px;top:0;height:10.68px;background:#5ea3c6"></div><div class="st" style="left:87px;top:0;height:10.68px;background:#b3d35a"></div></div>
<div class="r" style="top:391.89px"><div class="sep" style="top:10.33px;background:#cfe9e6"></div><div class="dl" style="top:0.11px;transform:scaleX(0.6)">M</div><div class="dn" style="top:0.11px"><span>24</span></div><div class="nm" style="top:0.11px">Adèle</div><div class="nb" style="top:6.11px">359-7</div><div class="ic" style="left:29.8px">◆</div><div class="st" style="left:85px;top:0;height:10.68px;background:#f2845f"></div><div class="st" style="left:86px;top:0;height:10.68px;background:#5ea3c6"></div><div class="st" style="left:87px;top:0;height:10.68px;background:#b3d35a"></div></div>
<div class="r inv" style="top:402.52px"><div class="bar" style="top:0;height:10.68px;background:#53afaa"></div><div class="dl" style="top:0.48px;transform:scaleX(0.6)">M</div><div class="dn" style="top:0.48px"><span>25</span></div><div class="nm" style="top:0.48px">NOËL</div><div class="nb" style="top:6.48px">360-6</div><div class="ic" style="left:29.8px">1 ☺</div><div class="st" style="left:85px;top:0;height:10.68px;background:#f2845f"></div><div class="st" style="left:86px;top:0;height:10.68px;background:#5ea3c6"></div><div class="st" style="left:87px;top:0;height:10.68px;background:#b3d35a"></div></div>
<div class="r" style="top:413.15px"><div class="sep" style="top:10.33px;background:#cfe9e6"></div><div class="dl" style="top:0.85px;transform:scaleX(0.95)">J</div><div class="dn" style="top:0.85px"><span>26</span></div><div class="nm" style="top:0.85px">Étienne</div><div class="nb" style="top:5.85px">361-5</div><div class="ic" style="left:29.8px">◐▪▰▴▰▪▾.▮.▴</div><div class="wk" style="top:0.85px;color:#009384">52</div><div class="st" style="left:85px;top:0;height:10.68px;background:#f2845f"></div><div class="st" style="left:86px;top:0;height:10.68px;background:#5ea3c6"></div><div class="st" style="left:87px;top:0;height:10.68px;background:#b3d35a"></div></div>
<div class="r" style="top:423.78px"><div class="sep" style="top:10.33px;background:#cfe9e6"></div><div class="dl" style="top:0.22px;transform:scaleX(0.75)">V</div><div class="dn" style="top:0.22px"><span>27</span></div><div class="nm" style="top:0.22px">Jean</div><div class="nb" style="top:6.22px">362-4</div><div class="st" style="left:85px;top:0;height:10.68px;background:#f2845f"></div><div class="st" style="left:86px;top:0;height:10.68px;background:#5ea3c6"></div><div class="st" style="left:87px;top:0;height:10.68px;background:#b3d35a"></div></div>
<div class="r" style="top:434.41px"><div class="sep" style="top:10.33px;background:#cfe9e6"></div><div class="dl" style="top:0.59px;transform:scaleX(0.76)">S</div><div class="dn" style="top:0.59px"><span>28</span></div><div class="nm" style="top:0.59px">Innocents</div><div class="nb" style="top:5.59px">363-3</div><div class="st" style="left:85px;top:0;height:10.68px;background:#f2845f"></div><div class="st" style="left:86px;top:0;height:10.68px;background:#5ea3c6"></div><div class="st" style="left:87px;top:0;height:10.68px;background:#b3d35a"></div></div>
<div class="r inv" style="top:445.04px"><div class="bar" style="top:0;height:10.68px;background:#009384"></div><div class="dl" style="top:0.96px;transform:scaleX(0.75)">D</div><div class="dn" style="top:0.96px"><span>29</span></div><div class="nm" style="top:0.96px">Sainte Famille</div><div class="nb" style="top:5.96px">364-2</div><div class="st" style="left:85px;top:0;height:10.68px;background:#f2845f"></div><div class="st" style="left:86px;top:0;height:10.68px;background:#5ea3c6"></div><div class="st" style="left:87px;top:0;height:10.68px;background:#b3d35a"></div></div>
<div class="r" style="top:455.67px"><div class="sep" style="top:10.33px;background:#cfe9e6"></div><div class="dl" style="top:0.33px;transform:scaleX(0.8)">L</div><div class="dn" style="top:0.33px"><span>30</span></div><div class="nm" style="top:0.33px">Roger</div><div class="nb" style="top:6.33px">365-1</div><span style="top:3.05px" class="mn mnew"></span><div class="st" style="left:85px;top:0;height:10.68px;background:#f2845f"></div><div class="st" style="left:86px;top:0;height:10.68px;background:#5ea3c6"></div><div class="st" style="left:87px;top:0;height:10.68px;background:#b3d35a"></div></div>
<div class="r" style="top:466.3px"><div class="dl" style="top:0.7px;transform:scaleX(0.6)">M</div><div class="dn" style="top:0.7px"><span>3<i>1</i></span></div><div class="nm" style="top:0.7px">Sylvestre</div><div class="nb" style="top:5.7px">366-0</div><div class="st" style="left:85px;top:0;height:10.68px;background:#f2845f"></div><div class="st" style="left:86px;top:0;height:10.68px;background:#5ea3c6"></div><div class="st" style="left:87px;top:0;height:10.68px;background:#b3d35a"></div></div>
</div>
<div class="jo" style="left:487.7px;color:#009384"><span>JOURS OUVRABLES : 25 - JOURS OUVRÉS : 21</span></div>
<div class="mt" style="left:583.4px;color:#214668"><span style="transform:scaleX(0.92)">JANVIER 2025</span></div>
<div class="col" style="left:583.4px">
<div class="r inv" style="top:147.4px"><div class="bar" style="top:0;height:10.68px;background:#65708c"></div><div class="dl" style="top:0.6px;transform:scaleX(0.6)">M</div><div class="dn" style="top:0.6px"><span>1</span></div><div class="nm" style="top:0.6px">JOUR DE L&#x27;AN</div><div class="nb" style="top:5.6px">1-364</div><div class="ic" style="left:29.8px">1 ☐</div><div class="st" style="left:85px;top:0;height:10.68px;background:#f2845f"></div><div class="st" style="left:86px;top:0;height:10.68px;background:#5ea3c6"></div><div class="st" style="left:87px;top:0;height:10.68px;background:#b3d35a"></div></div>
<div class="r" style="top:158.03px"><div class="sep" style="top:10.33px;background:#c9d1db"></div><div class="dl" style="top:0.97px;transform:scaleX(0.95)">J</div><div class="dn" style="top:0.97px"><span>2</span></div><div class="nm" style="top:0.97px">Basile</div><div class="nb" style="top:5.97px">2-363</div><div class="wk" style="top:0.97px;color:#214668">1</div><div class="st" style="left:85px;top:0;height:10.68px;background:#f2845f"></div><div class="st" style="left:86px;top:0;height:10.68px;background:#5ea3c6"></div><div class="st" style="left:87px;top:0;height:10.68px;background:#b3d35a"></div></div>
<div class="r" style="top:168.66px"><div class="sep" style="top:10.33px;background:#c9d1db"></div><div class="dl" style="top:0.34px;transform:scaleX(0.75)">V</div><div class="dn" style="top:0.34px"><span>3</span></div><div class="nm" style="top:0.34px">Geneviève</div><div class="nb" style="top:6.34px">3-362</div><div class="st" style="left:85px;top:0;height:10.68px;background:#f2845f"></div><div class="st" style="left:86px;top:0;height:10.68px;background:#5ea3c6"></div><div class="st" style="left:87px;top:0;height:10.68px;background:#b3d35a"></div></div>
<div class="r" style="top:179.29px"><div class="sep" style="top:10.33px;background:#c9d1db"></div><div class="dl" style="top:0.71px;transform:scaleX(0.76)">S</div><div class="dn" style="top:0.71px"><span>4</span></div><div class="nm" style="top:0.71px">Odilon</div><div class="nb" style="top:5.71px">4-361</div><div class="st" style="left:85px;top:0;height:10.68px;background:#f2845f"></div><div class="st" style="left:86px;top:0;height:10.68px;background:#5ea3c6"></div><div class="st" style="left:87px;top:0;height:10.68px;background:#b3d35a"></div></div>
<div class="r inv" style="top:189.92px"><div class="bar" style="top:0;height:10.68px;background:#214668"></div><div class="dl" style="top:1.08px;transform:scaleX(0.75)">D</div><div class="dn" style="top:1.08px"><span>5</span></div><div class="nm" style="top:1.08px">Épiphanie</div><div class="nb" style="top:6.08px">5-360</div><div class="st" style="left:85px;top:0;height:10.68px;background:#f2845f"></div><div class="st" style="left:86px;top:0;height:10.68px;background:#5ea3c6"></div><div class="st" style="left:87px;top:0;height:10.68px;background:#b3d35a"></div></div>
<div class="r" style="top:200.55px"><div class="sep" style="top:10.33px;background:#c9d1db"></div><div class="dl" style="top:0.45px;transform:scaleX(0.8)">L</div><div class="dn" style="top:0.45px"><span>6</span></div><div class="nm" style="top:0.45px">Mélaine</div><div class="nb" style="top:6.45px">6-359</div><div class="ic" style="left:29.8px">▬▬▬</div><span style="top:3.05px" class="mn mfq"></span></div>
<div class="r" style="top:211.18px"><div class="sep" style="top:10.33px;background:#c9d1db"></div><div class="dl" style="top:0.82px;transform:scaleX(0.6)">M</div><div class="dn" style="top:0.82px"><span>7</span></div><div class="nm" style="top:0.82px">Raymond</div><div class="nb" style="top:5.82px">7-358</div></div>
<div class="r" style="top:221.81px"><div class="sep" style="top:10.33px;background:#c9d1db"></div><div class="dl" style="top:0.19px;transform:scaleX(0.6)">M</div><div class="dn" style="top:0.19px"><span>8</span></div><div class="nm" style="top:0.19px">Lucien</div><div class="nb" style="top:6.19px">8-357</div></div>
<div class="r" style="top:232.44px"><div class="sep" style="top:10.33px;background:#c9d1db"></div><div class="dl" style="top:0.56px;transform:scaleX(0.95)">J</div><div class="dn" style="top:0.56px"><span>9</span></div><div class="nm" style="top:0.56px">Alix</div><div class="nb" style="top:5.56px">9-356</div><div class="wk" style="top:1.56px;color:#214668">2</div></div>
<div class="r" style="top:243.07px"><div class="sep" style="top:10.33px;background:#c9d1db"></div><div class="dl" style="top:0.93px;transform:scaleX(0.75)">V</div><div class="dn" style="top:0.93px"><span><i>1</i>0</span></div><div class="nm" style="top:0.93px">Guillaume</div><div class="nb" style="top:5.93px">10-355</div></div>
<div class="r" style="top:253.7px"><div class="sep" style="top:10.33px;background:#c9d1db"></div><div class="dl" style="top:0.3px;transform:scaleX(0.76)">S</div><div class="dn" style="top:0.3px"><span><i>1</i><i>1</i></span></div><div class="nm" style="top:0.3px">Paulin</div><div class="nb" style="top:6.3px">11-354</div></div>
<div class="r inv" style="top:264.33px"><div class="bar" style="top:0;height:10.68px;background:#214668"></div><div class="dl" style="top:0.67px;transform:scaleX(0.75)">D</div><div class="dn" style="top:0.67px"><span><i>1</i>2</span></div><div class="nm" style="top:0.67px">Tatiana</div><div class="nb" style="top:5.67px">12-353</div></div>
<div class="r" style="top:274.96px"><div class="sep" style="top:10.33px;background:#c9d1db"></div><div class="dl" style="top:1.04px;transform:scaleX(0.8)">L</div><div class="dn" style="top:1.04px"><span><i>1</i>3</span></div><div class="nm" style="top:1.04px">Yvette</div><div class="nb" style="top:6.04px">13-352</div><span style="top:3.05px" class="mn mfull"></span></div>
<div class="r" style="top:285.59px"><div class="sep" style="top:10.33px;background:#c9d1db"></div><div class="dl" style="top:0.41px;transform:scaleX(0.6)">M</div><div class="dn" style="top:0.41px"><span><i>1</i>4</span></div><div class="nm" style="top:0.41px">Nina</div><div class="nb" style="top:6.41px">14-351</div></div>
<div class="r" style="top:296.22px"><div class="sep" style="top:10.33px;background:#c9d1db"></div><div class="dl" style="top:0.78px;transform:scaleX(0.6)">M</div><div class="dn" style="top:0.78px"><span><i>1</i>5</span></div><div class="nm" style="top:0.78px">Rémi</div><div class="nb" style="top:5.78px">15-350</div></div>
<div class="r" style="top:306.85px"><div class="sep" style="top:10.33px;background:#c9d1db"></div><div class="dl" style="top:0.15px;transform:scaleX(0.95)">J</div><div class="dn" style="top:0.15px"><span><i>1</i>6</span></div><div class="nm" style="top:0.15px">Marcel</div><div class="nb" style="top:6.15px">16-349</div><div class="wk" style="top:1.15px;color:#214668">3</div></div>
<div class="r" style="top:317.48px"><div class="sep" style="top:10.33px;background:#c9d1db"></div><div class="dl" style="top:0.52px;transform:scaleX(0.75)">V</div><div class="dn" style="top:0.52px"><span><i>1</i>7</span></div><div class="nm" style="top:0.52px">Roseline</div><div class="nb" style="top:5.52px">17-348</div></div>
<div class="r" style="top:328.11px"><div class="sep" style="top:10.33px;background:#c9d1db"></div><div class="dl" style="top:0.89px;transform:scaleX(0.76)">S</div><div class="dn" style="top:0.89px"><span><i>1</i>8</span></div><div class="nm" style="top:0.89px">Prisca</div><div class="nb" style="top:5.89px">18-347</div></div>
<div class="r inv" style="top:338.74px"><div class="bar" style="top:0;height:10.68px;background:#214668"></div><div class="dl" style="top:0.26px;transform:scaleX(0.75)">D</div><div class="dn" style="top:0.26px"><span><i>1</i>9</span></div><div class="nm" style="top:0.26px">Marius</div><div class="nb" style="top:6.26px">19-346</div></div>
<div class="r" style="top:349.37px"><div class="sep" style="top:10.33px;background:#c9d1db"></div><div class="dl" style="top:0.63px;transform:scaleX(0.8)">L</div><div class="dn" style="top:0.63px"><span>20</span></div><div class="nm" style="top:0.63px">Sébastien</div><div class="nb" style="top:5.63px">20-345</div><div class="ic" style="left:29.8px">s</div></div>
<div class="r" style="top:360px"><div class="sep" style="top:10.33px;background:#c9d1db"></div><div class="dl" style="top:1px;transform:scaleX(0.6)">M</div><div class="dn" style="top:1px"><span>2<i>1</i></span></div><div class="nm" style="top:1px">Agnès</div><div class="nb" style="top:6px">21-344</div><span style="top:3.05px" class="mn mlq"></span></div>
<div class="r" style="top:370.63px"><div class="sep" style="top:10.33px;background:#c9d1db"></div><div class="dl" style="top:0.37px;transform:scaleX(0.6)">M</div><div class="dn" style="top:0.37px"><span>22</span></div><div class="nm" style="top:0.37px">Vincent</div><div class="nb" style="top:6.37px">22-343</div></div>
<div class="r" style="top:381.26px"><div class="sep" style="top:10.33px;background:#c9d1db"></div><div class="dl" style="top:0.74px;transform:scaleX(0.95)">J</div><div class="dn" style="top:0.74px"><span>23</span></div><div class="nm" style="top:0.74px">Barnard</div><div class="nb" style="top:5.74px">23-342</div><div class="wk" style="top:0.74px;color:#214668">4</div></div>
<div class="r" style="top:391.89px"><div class="sep" style="top:10.33px;background:#c9d1db"></div><div class="dl" style="top:0.11px;transform:scaleX(0.75)">V</div><div class="dn" style="top:0.11px"><span>24</span></div><div class="nm" style="top:0.11px">Fr. de Sales</div><div class="nb" style="top:6.11px">24-341</div></div>
<div class="r" style="top:402.52px"><div class="sep" style="top:10.33px;background:#c9d1db"></div><div class="dl" style="top:0.48px;transform:scaleX(0.76)">S</div><div class="dn" style="top:0.48px"><span>25</span></div><div class="nm" style="top:0.48px">Conv. St Paul</div><div class="nb" style="top:6.48px">25-340</div></div>
<div class="r inv" style="top:413.15px"><div class="bar" style="top:0;height:10.68px;background:#214668"></div><div class="dl" style="top:0.85px;transform:scaleX(0.75)">D</div><div class="dn" style="top:0.85px"><span>26</span></div><div class="nm" style="top:0.85px">Paule</div><div class="nb" style="top:5.85px">26-339</div></div>
<div class="r" style="top:423.78px"><div class="sep" style="top:10.33px;background:#c9d1db"></div><div class="dl" style="top:0.22px;transform:scaleX(0.8)">L</div><div class="dn" style="top:0.22px"><span>27</span></div><div class="nm" style="top:0.22px">Angèle</div><div class="nb" style="top:6.22px">27-338</div><div class="ic" style="left:29.8px">◆</div></div>
<div class="r" style="top:434.41px"><div class="sep" style="top:10.33px;background:#c9d1db"></div><div class="dl" style="top:0.59px;transform:scaleX(0.6)">M</div><div class="dn" style="top:0.59px"><span>28</span></div><div class="nm" style="top:0.59px">Thomas d&#x27;Aquin</div><div class="nb" style="top:5.59px">28-337</div></div>
<div class="r" style="top:445.04px"><div class="sep" style="top:10.33px;background:#c9d1db"></div><div class="dl" style="top:0.96px;transform:scaleX(0.6)">M</div><div class="dn" style="top:0.96px"><span>29</span></div><div class="nm" style="top:0.96px">Gildas</div><div class="nb" style="top:5.96px">29-336</div><span style="top:3.05px" class="mn mnew"></span></div>
<div class="r" style="top:455.67px"><div class="sep" style="top:10.33px;background:#c9d1db"></div><div class="dl" style="top:0.33px;transform:scaleX(0.95)">J</div><div class="dn" style="top:0.33px"><span>30</span></div><div class="nm" style="top:0.33px">Martine</div><div class="nb" style="top:6.33px">30-335</div><div class="wk" style="top:1.33px;color:#214668">5</div></div>
<div class="r" style="top:466.3px"><div class="dl" style="top:0.7px;transform:scaleX(0.75)">V</div><div class="dn" style="top:0.7px"><span>3<i>1</i></span></div><div class="nm" style="top:0.7px">Marcelle</div><div class="nb" style="top:5.7px">31-334</div></div>
</div>
<div class="jo" style="left:583.4px;color:#214668"><span>JOURS OUVRABLES : 26 - JOURS OUVRÉS : 22</span></div>
<div class="tag"></div><div class="tagt">TEMPLATE 01</div>
<div class="vs vb" style="left:9px;transform:scaleX(0.778)">VACANCES SCOLAIRES -</div>
<div class="vs za" style="left:51.8px;transform:scaleX(0.859)">ZONE A : Besançon, Bordeaux, Clermont-Ferrand, Dijon, Grenoble, Limoges, Lyon, Poitiers</div>
<div class="vs zb" style="left:207.4px;transform:scaleX(0.863)">ZONE B : Aix-Marseille, Amiens, Lille, Nancy-Metz, Nantes, Nice, Normandie, Orléans-Tours, Reims, Rennes, Strasbourg</div>
<div class="vs zc" style="left:412.2px;transform:scaleX(0.869)">ZONE C : Créteil, Montpellier, Paris, Toulouse, Versailles</div>
<div class="eco"><svg width="7" height="9" viewBox="0 0 7 9" style="position:absolute;left:0;top:0"><path d="M1.6 2.2 L6.2 0.2 L5.4 6.6 L0.8 8.6 Z" fill="#7dbb2c"/><path d="M2.4 3.4 L5.2 2.1 L4.8 4.6 L2.0 5.9 Z" fill="#b6dc6a"/></svg><span>ECOMATIERE</span></div>
<div class="lav"><span class="lv1">LAVI<i>G</i>NE</span><span class="lv2">&#9632;lavigne-eprint.com</span><span class="lv3">Imprimeur Fabricant</span></div>
</body></html>
